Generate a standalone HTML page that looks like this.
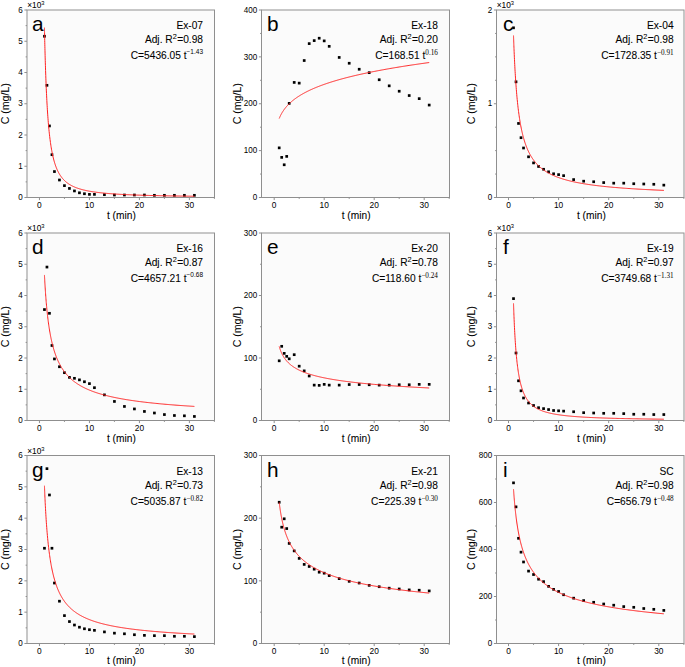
<!DOCTYPE html><html><head><meta charset="utf-8"><style>html,body{margin:0;padding:0;background:#fff;}svg{display:block;}text{font-family:"Liberation Sans",sans-serif;stroke:#000;stroke-width:0.07px;paint-order:stroke;}.sf{font-family:"Liberation Serif",serif;}</style></head><body>
<svg width="685" height="667" viewBox="0 0 685 667">
<rect width="685" height="667" fill="#fff"/>
<g><rect x="27.50" y="10.50" width="186.50" height="186.50" fill="#fbfbfb"/><clipPath id="cl0"><rect x="27.0" y="10.0" width="187.5" height="187.5"/></clipPath><rect x="43.10" y="34.90" width="2.7" height="2.7" fill="#000"/><rect x="45.60" y="83.96" width="2.7" height="2.7" fill="#000"/><rect x="48.10" y="124.59" width="2.7" height="2.7" fill="#000"/><rect x="50.60" y="153.34" width="2.7" height="2.7" fill="#000"/><rect x="53.09" y="170.21" width="2.7" height="2.7" fill="#000"/><rect x="58.09" y="178.65" width="2.7" height="2.7" fill="#000"/><rect x="63.09" y="184.28" width="2.7" height="2.7" fill="#000"/><rect x="68.09" y="187.09" width="2.7" height="2.7" fill="#000"/><rect x="73.09" y="189.59" width="2.7" height="2.7" fill="#000"/><rect x="78.08" y="191.46" width="2.7" height="2.7" fill="#000"/><rect x="83.08" y="192.40" width="2.7" height="2.7" fill="#000"/><rect x="88.08" y="193.03" width="2.7" height="2.7" fill="#000"/><rect x="93.08" y="193.03" width="2.7" height="2.7" fill="#000"/><rect x="103.07" y="193.34" width="2.7" height="2.7" fill="#000"/><rect x="113.07" y="193.65" width="2.7" height="2.7" fill="#000"/><rect x="123.07" y="193.65" width="2.7" height="2.7" fill="#000"/><rect x="133.06" y="193.65" width="2.7" height="2.7" fill="#000"/><rect x="143.06" y="193.65" width="2.7" height="2.7" fill="#000"/><rect x="153.05" y="193.96" width="2.7" height="2.7" fill="#000"/><rect x="163.05" y="193.96" width="2.7" height="2.7" fill="#000"/><rect x="173.05" y="193.96" width="2.7" height="2.7" fill="#000"/><rect x="183.04" y="193.96" width="2.7" height="2.7" fill="#000"/><rect x="193.04" y="193.96" width="2.7" height="2.7" fill="#000"/><polyline clip-path="url(#cl0)" points="44.45,27.62 44.45,27.70 44.45,27.95 44.46,28.35 44.47,28.91 44.49,29.63 44.51,30.50 44.53,31.51 44.55,32.67 44.58,33.97 44.61,35.40 44.65,36.96 44.69,38.64 44.73,40.43 44.77,42.32 44.82,44.31 44.87,46.40 44.93,48.56 44.99,50.80 45.05,53.10 45.11,55.46 45.18,57.88 45.25,60.33 45.33,62.83 45.41,65.35 45.49,67.90 45.57,70.46 45.66,73.04 45.75,75.62 45.85,78.19 45.95,80.77 46.05,83.33 46.15,85.88 46.26,88.41 46.37,90.91 46.49,93.39 46.61,95.84 46.73,98.26 46.85,100.65 46.98,103.00 47.11,105.31 47.25,107.58 47.39,109.82 47.53,112.01 47.67,114.15 47.82,116.26 47.97,118.31 48.13,120.33 48.29,122.30 48.45,124.22 48.61,126.10 48.78,127.93 48.95,129.72 49.13,131.47 49.31,133.17 49.49,134.83 49.67,136.44 49.86,138.01 50.05,139.55 50.25,141.04 50.45,142.49 50.65,143.90 50.85,145.27 51.06,146.60 51.27,147.90 51.49,149.16 51.71,150.39 51.93,151.58 52.15,152.74 52.38,153.87 52.61,154.96 52.85,156.02 53.08,157.05 53.33,158.06 53.57,159.03 53.82,159.98 54.07,160.90 54.33,161.79 54.58,162.66 54.85,163.50 55.11,164.32 55.38,165.12 55.65,165.89 55.93,166.64 56.20,167.37 56.48,168.08 56.77,168.77 57.06,169.44 57.35,170.09 57.64,170.73 57.94,171.34 58.24,171.94 58.55,172.52 58.86,173.09 59.17,173.64 59.48,174.17 59.80,174.69 60.12,175.20 60.45,175.69 60.78,176.17 61.11,176.63 61.44,177.09 61.78,177.53 62.12,177.95 62.47,178.37 62.82,178.78 63.17,179.17 63.52,179.56 63.88,179.93 64.24,180.30 64.61,180.65 64.97,181.00 65.35,181.34 65.72,181.67 66.10,181.99 66.48,182.30 66.87,182.60 67.25,182.90 67.65,183.19 68.04,183.47 68.44,183.75 68.84,184.01 69.24,184.28 69.65,184.53 70.06,184.78 70.48,185.02 70.90,185.26 71.32,185.49 71.74,185.71 72.17,185.93 72.60,186.15 73.04,186.36 73.48,186.56 73.92,186.76 74.36,186.96 74.81,187.15 75.26,187.33 75.72,187.52 76.18,187.69 76.64,187.87 77.10,188.04 77.57,188.20 78.04,188.36 78.52,188.52 78.99,188.68 79.48,188.83 79.96,188.98 80.45,189.12 80.94,189.26 81.43,189.40 81.93,189.54 82.43,189.67 82.94,189.80 83.45,189.93 83.96,190.05 84.47,190.17 84.99,190.29 85.51,190.41 86.04,190.52 86.57,190.63 87.10,190.74 87.63,190.85 88.17,190.95 88.71,191.06 89.26,191.16 89.80,191.26 90.36,191.35 90.91,191.45 91.47,191.54 92.03,191.63 92.60,191.72 93.16,191.81 93.73,191.89 94.31,191.98 94.89,192.06 95.47,192.14 96.05,192.22 96.64,192.29 97.23,192.37 97.83,192.45 98.43,192.52 99.03,192.59 99.63,192.66 100.24,192.73 100.85,192.80 101.47,192.86 102.08,192.93 102.71,192.99 103.33,193.06 103.96,193.12 104.59,193.18 105.23,193.24 105.86,193.30 106.50,193.35 107.15,193.41 107.80,193.47 108.45,193.52 109.10,193.57 109.76,193.63 110.42,193.68 111.09,193.73 111.76,193.78 112.43,193.83 113.10,193.87 113.78,193.92 114.46,193.97 115.15,194.01 115.83,194.06 116.53,194.10 117.22,194.15 117.92,194.19 118.62,194.23 119.32,194.27 120.03,194.31 120.74,194.35 121.46,194.39 122.18,194.43 122.90,194.47 123.62,194.50 124.35,194.54 125.08,194.58 125.82,194.61 126.56,194.65 127.30,194.68 128.04,194.72 128.79,194.75 129.54,194.78 130.30,194.81 131.05,194.85 131.81,194.88 132.58,194.91 133.35,194.94 134.12,194.97 134.89,195.00 135.67,195.03 136.45,195.05 137.24,195.08 138.03,195.11 138.82,195.14 139.61,195.16 140.41,195.19 141.21,195.22 142.02,195.24 142.82,195.27 143.63,195.29 144.45,195.32 145.27,195.34 146.09,195.36 146.91,195.39 147.74,195.41 148.57,195.43 149.41,195.46 150.25,195.48 151.09,195.50 151.93,195.52 152.78,195.54 153.63,195.56 154.49,195.58 155.34,195.60 156.20,195.62 157.07,195.64 157.94,195.66 158.81,195.68 159.68,195.70 160.56,195.72 161.44,195.74 162.33,195.76 163.22,195.77 164.11,195.79 165.00,195.81 165.90,195.83 166.80,195.84 167.71,195.86 168.61,195.88 169.52,195.89 170.44,195.91 171.36,195.92 172.28,195.94 173.20,195.96 174.13,195.97 175.06,195.99 176.00,196.00 176.93,196.02 177.88,196.03 178.82,196.04 179.77,196.06 180.72,196.07 181.67,196.09 182.63,196.10 183.59,196.11 184.56,196.13 185.53,196.14 186.50,196.15 187.47,196.16 188.45,196.18 189.43,196.19 190.42,196.20 191.40,196.21 192.40,196.22 193.39,196.24 194.39,196.25" fill="none" stroke="#ff2020" stroke-width="1"/><rect x="27.00" y="10.00" width="187.50" height="187.50" fill="none" stroke="#8f8f8f" stroke-width="1"/><line x1="39.45" y1="197.5" x2="39.45" y2="200.1" stroke="#8f8f8f" stroke-width="1"/><text transform="translate(39.45,208.00) scale(1.0,1)" font-size="8.4" text-anchor="middle" fill="#000" style="stroke:none">0</text><line x1="64.44" y1="197.5" x2="64.44" y2="198.9" stroke="#8f8f8f" stroke-width="1"/><line x1="89.43" y1="197.5" x2="89.43" y2="200.1" stroke="#8f8f8f" stroke-width="1"/><text transform="translate(89.43,208.00) scale(1.0,1)" font-size="8.4" text-anchor="middle" fill="#000" style="stroke:none">10</text><line x1="114.42" y1="197.5" x2="114.42" y2="198.9" stroke="#8f8f8f" stroke-width="1"/><line x1="139.41" y1="197.5" x2="139.41" y2="200.1" stroke="#8f8f8f" stroke-width="1"/><text transform="translate(139.41,208.00) scale(1.0,1)" font-size="8.4" text-anchor="middle" fill="#000" style="stroke:none">20</text><line x1="164.40" y1="197.5" x2="164.40" y2="198.9" stroke="#8f8f8f" stroke-width="1"/><line x1="189.39" y1="197.5" x2="189.39" y2="200.1" stroke="#8f8f8f" stroke-width="1"/><text transform="translate(189.39,208.00) scale(1.0,1)" font-size="8.4" text-anchor="middle" fill="#000" style="stroke:none">30</text><line x1="214.38" y1="197.5" x2="214.38" y2="198.9" stroke="#8f8f8f" stroke-width="1"/><line x1="27.0" y1="197.50" x2="24.4" y2="197.50" stroke="#8f8f8f" stroke-width="1"/><text transform="translate(22.70,200.20) scale(0.96,1.1)" font-size="8.4" text-anchor="end" fill="#000" style="stroke:none">0</text><line x1="27.0" y1="181.88" x2="25.6" y2="181.88" stroke="#8f8f8f" stroke-width="1"/><line x1="27.0" y1="166.25" x2="24.4" y2="166.25" stroke="#8f8f8f" stroke-width="1"/><text transform="translate(22.70,168.95) scale(0.96,1.1)" font-size="8.4" text-anchor="end" fill="#000" style="stroke:none">1</text><line x1="27.0" y1="150.62" x2="25.6" y2="150.62" stroke="#8f8f8f" stroke-width="1"/><line x1="27.0" y1="135.00" x2="24.4" y2="135.00" stroke="#8f8f8f" stroke-width="1"/><text transform="translate(22.70,137.70) scale(0.96,1.1)" font-size="8.4" text-anchor="end" fill="#000" style="stroke:none">2</text><line x1="27.0" y1="119.38" x2="25.6" y2="119.38" stroke="#8f8f8f" stroke-width="1"/><line x1="27.0" y1="103.75" x2="24.4" y2="103.75" stroke="#8f8f8f" stroke-width="1"/><text transform="translate(22.70,106.45) scale(0.96,1.1)" font-size="8.4" text-anchor="end" fill="#000" style="stroke:none">3</text><line x1="27.0" y1="88.12" x2="25.6" y2="88.12" stroke="#8f8f8f" stroke-width="1"/><line x1="27.0" y1="72.50" x2="24.4" y2="72.50" stroke="#8f8f8f" stroke-width="1"/><text transform="translate(22.70,75.20) scale(0.96,1.1)" font-size="8.4" text-anchor="end" fill="#000" style="stroke:none">4</text><line x1="27.0" y1="56.88" x2="25.6" y2="56.88" stroke="#8f8f8f" stroke-width="1"/><line x1="27.0" y1="41.25" x2="24.4" y2="41.25" stroke="#8f8f8f" stroke-width="1"/><text transform="translate(22.70,43.95) scale(0.96,1.1)" font-size="8.4" text-anchor="end" fill="#000" style="stroke:none">5</text><line x1="27.0" y1="25.62" x2="25.6" y2="25.62" stroke="#8f8f8f" stroke-width="1"/><line x1="27.0" y1="10.00" x2="24.4" y2="10.00" stroke="#8f8f8f" stroke-width="1"/><text transform="translate(22.70,12.70) scale(0.96,1.1)" font-size="8.4" text-anchor="end" fill="#000" style="stroke:none">6</text><text x="27.20" y="8.00" font-size="8.3" fill="#000">×10<tspan font-size="5.8" dy="-3.0" style="stroke:none">3</tspan></text><text x="121.35" y="218.80" font-size="10.2" text-anchor="middle" fill="#000">t (min)</text><text transform="translate(9.40,103.75) rotate(-90)" font-size="10.6" text-anchor="middle" fill="#000">C (mg/L)</text><text x="32.00" y="31.40" font-size="20.8" fill="#000" style="stroke:none">a</text><text x="203.00" y="28.80" font-size="10.2" text-anchor="end" fill="#000">Ex-07</text><text x="203.00" y="42.90" font-size="10.2" text-anchor="end" fill="#000">Adj. R<tspan font-size="7.3" dy="-3.8">2</tspan><tspan dy="3.8" dx="0.5">=0.98</tspan></text><text x="203.00" y="58.60" font-size="10.2" text-anchor="end" fill="#000">C=5436.05 t<tspan style="stroke:none" font-size="6.5" dy="-4.2">−1.43</tspan></text></g>
<g><rect x="262.00" y="10.50" width="187.00" height="186.50" fill="#fbfbfb"/><clipPath id="cl1"><rect x="261.5" y="10.0" width="188.0" height="187.5"/></clipPath><rect x="277.85" y="146.51" width="2.7" height="2.7" fill="#000"/><rect x="280.35" y="156.03" width="2.7" height="2.7" fill="#000"/><rect x="282.85" y="163.43" width="2.7" height="2.7" fill="#000"/><rect x="285.35" y="155.04" width="2.7" height="2.7" fill="#000"/><rect x="287.85" y="102.03" width="2.7" height="2.7" fill="#000"/><rect x="292.85" y="81.07" width="2.7" height="2.7" fill="#000"/><rect x="297.85" y="81.78" width="2.7" height="2.7" fill="#000"/><rect x="302.85" y="59.18" width="2.7" height="2.7" fill="#000"/><rect x="307.85" y="42.26" width="2.7" height="2.7" fill="#000"/><rect x="312.85" y="39.26" width="2.7" height="2.7" fill="#000"/><rect x="317.85" y="36.87" width="2.7" height="2.7" fill="#000"/><rect x="322.85" y="39.54" width="2.7" height="2.7" fill="#000"/><rect x="327.85" y="44.98" width="2.7" height="2.7" fill="#000"/><rect x="337.85" y="56.09" width="2.7" height="2.7" fill="#000"/><rect x="347.85" y="61.90" width="2.7" height="2.7" fill="#000"/><rect x="357.85" y="67.90" width="2.7" height="2.7" fill="#000"/><rect x="367.85" y="71.32" width="2.7" height="2.7" fill="#000"/><rect x="377.85" y="78.40" width="2.7" height="2.7" fill="#000"/><rect x="387.85" y="84.49" width="2.7" height="2.7" fill="#000"/><rect x="397.85" y="89.88" width="2.7" height="2.7" fill="#000"/><rect x="407.85" y="94.20" width="2.7" height="2.7" fill="#000"/><rect x="417.85" y="97.29" width="2.7" height="2.7" fill="#000"/><rect x="427.85" y="103.71" width="2.7" height="2.7" fill="#000"/><polyline clip-path="url(#cl1)" points="279.20,118.51 279.20,118.51 279.21,118.49 279.21,118.47 279.23,118.45 279.24,118.41 279.26,118.36 279.28,118.31 279.31,118.25 279.33,118.18 279.37,118.11 279.40,118.02 279.44,117.93 279.48,117.83 279.53,117.73 279.57,117.61 279.63,117.50 279.68,117.37 279.74,117.24 279.80,117.10 279.87,116.95 279.94,116.80 280.01,116.65 280.08,116.48 280.16,116.32 280.24,116.14 280.33,115.97 280.41,115.78 280.51,115.60 280.60,115.41 280.70,115.21 280.80,115.01 280.91,114.81 281.01,114.60 281.13,114.39 281.24,114.18 281.36,113.96 281.48,113.74 281.61,113.52 281.74,113.29 281.87,113.06 282.00,112.83 282.14,112.60 282.28,112.37 282.43,112.13 282.57,111.89 282.73,111.65 282.88,111.41 283.04,111.17 283.20,110.92 283.37,110.68 283.53,110.43 283.71,110.18 283.88,109.93 284.06,109.68 284.24,109.43 284.43,109.18 284.62,108.93 284.81,108.68 285.00,108.43 285.20,108.17 285.40,107.92 285.61,107.67 285.81,107.41 286.03,107.16 286.24,106.90 286.46,106.65 286.68,106.39 286.91,106.14 287.13,105.89 287.37,105.63 287.60,105.38 287.84,105.12 288.08,104.87 288.33,104.62 288.57,104.36 288.83,104.11 289.08,103.86 289.34,103.61 289.60,103.36 289.87,103.11 290.13,102.86 290.41,102.61 290.68,102.36 290.96,102.11 291.24,101.86 291.53,101.61 291.81,101.36 292.11,101.12 292.40,100.87 292.70,100.63 293.00,100.38 293.31,100.14 293.62,99.89 293.93,99.65 294.24,99.41 294.56,99.17 294.88,98.93 295.21,98.69 295.53,98.45 295.87,98.21 296.20,97.97 296.54,97.73 296.88,97.50 297.23,97.26 297.57,97.03 297.93,96.79 298.28,96.56 298.64,96.33 299.00,96.09 299.37,95.86 299.74,95.63 300.11,95.40 300.48,95.17 300.86,94.94 301.24,94.72 301.63,94.49 302.01,94.26 302.41,94.04 302.80,93.81 303.20,93.59 303.60,93.37 304.01,93.14 304.41,92.92 304.83,92.70 305.24,92.48 305.66,92.26 306.08,92.04 306.51,91.82 306.94,91.61 307.37,91.39 307.80,91.17 308.24,90.96 308.68,90.74 309.13,90.53 309.57,90.32 310.03,90.11 310.48,89.89 310.94,89.68 311.40,89.47 311.87,89.26 312.33,89.05 312.81,88.85 313.28,88.64 313.76,88.43 314.24,88.23 314.73,88.02 315.21,87.82 315.71,87.61 316.20,87.41 316.70,87.20 317.20,87.00 317.71,86.80 318.21,86.60 318.73,86.40 319.24,86.20 319.76,86.00 320.28,85.80 320.81,85.61 321.33,85.41 321.87,85.21 322.40,85.02 322.94,84.82 323.48,84.63 324.03,84.43 324.57,84.24 325.13,84.05 325.68,83.86 326.24,83.66 326.80,83.47 327.37,83.28 327.94,83.09 328.51,82.91 329.08,82.72 329.66,82.53 330.24,82.34 330.83,82.15 331.41,81.97 332.01,81.78 332.60,81.60 333.20,81.41 333.80,81.23 334.41,81.05 335.01,80.86 335.63,80.68 336.24,80.50 336.86,80.32 337.48,80.14 338.11,79.96 338.74,79.78 339.37,79.60 340.00,79.42 340.64,79.24 341.28,79.07 341.93,78.89 342.57,78.71 343.23,78.54 343.88,78.36 344.54,78.19 345.20,78.01 345.87,77.84 346.53,77.66 347.21,77.49 347.88,77.32 348.56,77.15 349.24,76.98 349.93,76.80 350.62,76.63 351.31,76.46 352.00,76.29 352.70,76.13 353.40,75.96 354.11,75.79 354.81,75.62 355.53,75.45 356.24,75.29 356.96,75.12 357.68,74.95 358.41,74.79 359.13,74.62 359.87,74.46 360.60,74.30 361.34,74.13 362.08,73.97 362.83,73.81 363.57,73.64 364.33,73.48 365.08,73.32 365.84,73.16 366.60,73.00 367.37,72.84 368.13,72.68 368.91,72.52 369.68,72.36 370.46,72.20 371.24,72.04 372.03,71.89 372.81,71.73 373.61,71.57 374.40,71.41 375.20,71.26 376.00,71.10 376.81,70.95 377.62,70.79 378.43,70.64 379.24,70.48 380.06,70.33 380.88,70.18 381.71,70.02 382.53,69.87 383.37,69.72 384.20,69.57 385.04,69.41 385.88,69.26 386.73,69.11 387.57,68.96 388.43,68.81 389.28,68.66 390.14,68.51 391.00,68.36 391.87,68.21 392.74,68.07 393.61,67.92 394.48,67.77 395.36,67.62 396.24,67.48 397.13,67.33 398.01,67.18 398.91,67.04 399.80,66.89 400.70,66.75 401.60,66.60 402.51,66.46 403.42,66.31 404.33,66.17 405.24,66.02 406.16,65.88 407.08,65.74 408.01,65.60 408.94,65.45 409.87,65.31 410.80,65.17 411.74,65.03 412.68,64.89 413.63,64.75 414.57,64.61 415.53,64.47 416.48,64.33 417.44,64.19 418.40,64.05 419.37,63.91 420.33,63.77 421.31,63.63 422.28,63.49 423.26,63.36 424.24,63.22 425.23,63.08 426.21,62.94 427.21,62.81 428.20,62.67 429.20,62.54" fill="none" stroke="#ff2020" stroke-width="1"/><rect x="261.50" y="10.00" width="188.00" height="187.50" fill="none" stroke="#8f8f8f" stroke-width="1"/><line x1="274.20" y1="197.5" x2="274.20" y2="200.1" stroke="#8f8f8f" stroke-width="1"/><text transform="translate(274.20,208.00) scale(1.0,1)" font-size="8.4" text-anchor="middle" fill="#000" style="stroke:none">0</text><line x1="299.20" y1="197.5" x2="299.20" y2="198.9" stroke="#8f8f8f" stroke-width="1"/><line x1="324.20" y1="197.5" x2="324.20" y2="200.1" stroke="#8f8f8f" stroke-width="1"/><text transform="translate(324.20,208.00) scale(1.0,1)" font-size="8.4" text-anchor="middle" fill="#000" style="stroke:none">10</text><line x1="349.20" y1="197.5" x2="349.20" y2="198.9" stroke="#8f8f8f" stroke-width="1"/><line x1="374.20" y1="197.5" x2="374.20" y2="200.1" stroke="#8f8f8f" stroke-width="1"/><text transform="translate(374.20,208.00) scale(1.0,1)" font-size="8.4" text-anchor="middle" fill="#000" style="stroke:none">20</text><line x1="399.20" y1="197.5" x2="399.20" y2="198.9" stroke="#8f8f8f" stroke-width="1"/><line x1="424.20" y1="197.5" x2="424.20" y2="200.1" stroke="#8f8f8f" stroke-width="1"/><text transform="translate(424.20,208.00) scale(1.0,1)" font-size="8.4" text-anchor="middle" fill="#000" style="stroke:none">30</text><line x1="449.20" y1="197.5" x2="449.20" y2="198.9" stroke="#8f8f8f" stroke-width="1"/><line x1="261.5" y1="197.50" x2="258.9" y2="197.50" stroke="#8f8f8f" stroke-width="1"/><text transform="translate(257.20,200.20) scale(0.96,1.1)" font-size="8.4" text-anchor="end" fill="#000" style="stroke:none">0</text><line x1="261.5" y1="174.06" x2="260.1" y2="174.06" stroke="#8f8f8f" stroke-width="1"/><line x1="261.5" y1="150.62" x2="258.9" y2="150.62" stroke="#8f8f8f" stroke-width="1"/><text transform="translate(257.20,153.32) scale(0.96,1.1)" font-size="8.4" text-anchor="end" fill="#000" style="stroke:none">100</text><line x1="261.5" y1="127.19" x2="260.1" y2="127.19" stroke="#8f8f8f" stroke-width="1"/><line x1="261.5" y1="103.75" x2="258.9" y2="103.75" stroke="#8f8f8f" stroke-width="1"/><text transform="translate(257.20,106.45) scale(0.96,1.1)" font-size="8.4" text-anchor="end" fill="#000" style="stroke:none">200</text><line x1="261.5" y1="80.31" x2="260.1" y2="80.31" stroke="#8f8f8f" stroke-width="1"/><line x1="261.5" y1="56.88" x2="258.9" y2="56.88" stroke="#8f8f8f" stroke-width="1"/><text transform="translate(257.20,59.58) scale(0.96,1.1)" font-size="8.4" text-anchor="end" fill="#000" style="stroke:none">300</text><line x1="261.5" y1="33.44" x2="260.1" y2="33.44" stroke="#8f8f8f" stroke-width="1"/><line x1="261.5" y1="10.00" x2="258.9" y2="10.00" stroke="#8f8f8f" stroke-width="1"/><text transform="translate(257.20,12.70) scale(0.96,1.1)" font-size="8.4" text-anchor="end" fill="#000" style="stroke:none">400</text><text x="356.10" y="218.80" font-size="10.2" text-anchor="middle" fill="#000">t (min)</text><text transform="translate(241.30,103.75) rotate(-90)" font-size="10.6" text-anchor="middle" fill="#000">C (mg/L)</text><text x="267.00" y="31.40" font-size="20.8" fill="#000" style="stroke:none">b</text><text x="437.90" y="28.80" font-size="10.2" text-anchor="end" fill="#000">Ex-18</text><text x="437.90" y="42.90" font-size="10.2" text-anchor="end" fill="#000">Adj. R<tspan font-size="7.3" dy="-3.8">2</tspan><tspan dy="3.8" dx="0.5">=0.20</tspan></text><text x="437.90" y="58.60" font-size="10.2" text-anchor="end" fill="#000">C=168.51 t<tspan class="sf" style="stroke:none" font-size="7.2" dy="-3.9">0.16</tspan></text></g>
<g><rect x="497.00" y="10.50" width="186.50" height="186.50" fill="#fbfbfb"/><clipPath id="cl2"><rect x="496.5" y="10.0" width="187.5" height="187.5"/></clipPath><rect x="512.16" y="26.46" width="2.7" height="2.7" fill="#000"/><rect x="514.66" y="80.46" width="2.7" height="2.7" fill="#000"/><rect x="517.17" y="122.09" width="2.7" height="2.7" fill="#000"/><rect x="519.67" y="136.34" width="2.7" height="2.7" fill="#000"/><rect x="522.18" y="146.65" width="2.7" height="2.7" fill="#000"/><rect x="527.19" y="155.46" width="2.7" height="2.7" fill="#000"/><rect x="532.20" y="161.56" width="2.7" height="2.7" fill="#000"/><rect x="537.21" y="165.12" width="2.7" height="2.7" fill="#000"/><rect x="542.22" y="167.93" width="2.7" height="2.7" fill="#000"/><rect x="547.23" y="170.46" width="2.7" height="2.7" fill="#000"/><rect x="552.24" y="172.43" width="2.7" height="2.7" fill="#000"/><rect x="557.25" y="173.28" width="2.7" height="2.7" fill="#000"/><rect x="562.26" y="174.31" width="2.7" height="2.7" fill="#000"/><rect x="572.28" y="178.24" width="2.7" height="2.7" fill="#000"/><rect x="582.30" y="179.84" width="2.7" height="2.7" fill="#000"/><rect x="592.32" y="180.40" width="2.7" height="2.7" fill="#000"/><rect x="602.34" y="181.24" width="2.7" height="2.7" fill="#000"/><rect x="612.36" y="181.81" width="2.7" height="2.7" fill="#000"/><rect x="622.38" y="181.81" width="2.7" height="2.7" fill="#000"/><rect x="632.40" y="182.37" width="2.7" height="2.7" fill="#000"/><rect x="642.42" y="182.65" width="2.7" height="2.7" fill="#000"/><rect x="652.44" y="182.93" width="2.7" height="2.7" fill="#000"/><rect x="662.46" y="183.78" width="2.7" height="2.7" fill="#000"/><polyline clip-path="url(#cl2)" points="513.51,35.47 513.51,35.52 513.52,35.66 513.53,35.91 513.54,36.25 513.55,36.69 513.57,37.22 513.59,37.84 513.62,38.55 513.65,39.35 513.68,40.23 513.71,41.19 513.75,42.23 513.79,43.35 513.84,44.54 513.89,45.79 513.94,47.10 513.99,48.48 514.05,49.90 514.11,51.38 514.18,52.91 514.25,54.48 514.32,56.09 514.39,57.73 514.47,59.40 514.55,61.10 514.64,62.82 514.73,64.57 514.82,66.33 514.91,68.10 515.01,69.88 515.11,71.67 515.22,73.46 515.33,75.26 515.44,77.06 515.56,78.85 515.67,80.63 515.80,82.41 515.92,84.18 516.05,85.94 516.18,87.68 516.32,89.41 516.46,91.13 516.60,92.83 516.74,94.51 516.89,96.17 517.04,97.81 517.20,99.43 517.36,101.03 517.52,102.61 517.68,104.16 517.85,105.70 518.03,107.21 518.20,108.69 518.38,110.16 518.56,111.59 518.75,113.01 518.94,114.40 519.13,115.77 519.32,117.11 519.52,118.43 519.72,119.73 519.93,121.00 520.14,122.25 520.35,123.48 520.57,124.68 520.78,125.86 521.01,127.02 521.23,128.16 521.46,129.27 521.69,130.37 521.93,131.44 522.17,132.49 522.41,133.52 522.65,134.53 522.90,135.52 523.16,136.49 523.41,137.44 523.67,138.38 523.93,139.29 524.20,140.19 524.47,141.07 524.74,141.93 525.01,142.77 525.29,143.60 525.58,144.41 525.86,145.21 526.15,145.99 526.44,146.75 526.74,147.50 527.04,148.23 527.34,148.95 527.64,149.66 527.95,150.35 528.27,151.03 528.58,151.70 528.90,152.35 529.22,152.99 529.55,153.61 529.88,154.23 530.21,154.83 530.55,155.42 530.88,156.00 531.23,156.57 531.57,157.13 531.92,157.68 532.27,158.22 532.63,158.74 532.99,159.26 533.35,159.77 533.72,160.27 534.09,160.76 534.46,161.24 534.83,161.71 535.21,162.17 535.60,162.62 535.98,163.07 536.37,163.51 536.76,163.94 537.16,164.36 537.56,164.77 537.96,165.18 538.37,165.58 538.78,165.97 539.19,166.36 539.60,166.74 540.02,167.11 540.45,167.48 540.87,167.84 541.30,168.19 541.73,168.54 542.17,168.88 542.61,169.22 543.05,169.54 543.50,169.87 543.95,170.19 544.40,170.50 544.85,170.81 545.31,171.11 545.78,171.41 546.24,171.70 546.71,171.99 547.18,172.28 547.66,172.56 548.14,172.83 548.62,173.10 549.11,173.37 549.60,173.63 550.09,173.89 550.59,174.14 551.09,174.39 551.59,174.63 552.09,174.88 552.60,175.11 553.12,175.35 553.63,175.58 554.15,175.81 554.67,176.03 555.20,176.25 555.73,176.47 556.26,176.68 556.80,176.89 557.34,177.10 557.88,177.30 558.43,177.50 558.98,177.70 559.53,177.90 560.08,178.09 560.64,178.28 561.21,178.46 561.77,178.65 562.34,178.83 562.92,179.01 563.49,179.19 564.07,179.36 564.65,179.53 565.24,179.70 565.83,179.87 566.42,180.03 567.02,180.19 567.62,180.35 568.22,180.51 568.83,180.67 569.44,180.82 570.05,180.97 570.67,181.12 571.29,181.27 571.91,181.41 572.53,181.56 573.16,181.70 573.80,181.84 574.43,181.97 575.07,182.11 575.72,182.24 576.36,182.38 577.01,182.51 577.66,182.64 578.32,182.76 578.98,182.89 579.64,183.01 580.31,183.13 580.98,183.26 581.65,183.37 582.33,183.49 583.01,183.61 583.69,183.72 584.38,183.84 585.07,183.95 585.76,184.06 586.46,184.17 587.16,184.28 587.86,184.38 588.57,184.49 589.28,184.59 589.99,184.70 590.71,184.80 591.43,184.90 592.15,185.00 592.88,185.09 593.60,185.19 594.34,185.29 595.07,185.38 595.81,185.48 596.56,185.57 597.30,185.66 598.05,185.75 598.81,185.84 599.56,185.93 600.32,186.01 601.09,186.10 601.85,186.19 602.62,186.27 603.40,186.35 604.17,186.44 604.95,186.52 605.74,186.60 606.52,186.68 607.31,186.76 608.11,186.83 608.90,186.91 609.70,186.99 610.51,187.06 611.31,187.14 612.12,187.21 612.94,187.28 613.75,187.36 614.57,187.43 615.40,187.50 616.22,187.57 617.05,187.64 617.88,187.71 618.72,187.77 619.56,187.84 620.41,187.91 621.25,187.97 622.10,188.04 622.96,188.10 623.81,188.16 624.67,188.23 625.54,188.29 626.40,188.35 627.27,188.41 628.15,188.47 629.02,188.53 629.90,188.59 630.79,188.65 631.67,188.71 632.56,188.77 633.46,188.82 634.35,188.88 635.25,188.93 636.16,188.99 637.06,189.04 637.97,189.10 638.89,189.15 639.80,189.20 640.72,189.26 641.65,189.31 642.57,189.36 643.50,189.41 644.44,189.46 645.37,189.51 646.32,189.56 647.26,189.61 648.21,189.66 649.16,189.71 650.11,189.76 651.07,189.80 652.03,189.85 652.99,189.90 653.96,189.94 654.93,189.99 655.90,190.03 656.88,190.08 657.86,190.12 658.84,190.17 659.83,190.21 660.82,190.25 661.81,190.30 662.81,190.34 663.81,190.38" fill="none" stroke="#ff2020" stroke-width="1"/><rect x="496.50" y="10.00" width="187.50" height="187.50" fill="none" stroke="#8f8f8f" stroke-width="1"/><line x1="508.50" y1="197.5" x2="508.50" y2="200.1" stroke="#8f8f8f" stroke-width="1"/><text transform="translate(508.50,208.00) scale(1.0,1)" font-size="8.4" text-anchor="middle" fill="#000" style="stroke:none">0</text><line x1="533.55" y1="197.5" x2="533.55" y2="198.9" stroke="#8f8f8f" stroke-width="1"/><line x1="558.60" y1="197.5" x2="558.60" y2="200.1" stroke="#8f8f8f" stroke-width="1"/><text transform="translate(558.60,208.00) scale(1.0,1)" font-size="8.4" text-anchor="middle" fill="#000" style="stroke:none">10</text><line x1="583.65" y1="197.5" x2="583.65" y2="198.9" stroke="#8f8f8f" stroke-width="1"/><line x1="608.70" y1="197.5" x2="608.70" y2="200.1" stroke="#8f8f8f" stroke-width="1"/><text transform="translate(608.70,208.00) scale(1.0,1)" font-size="8.4" text-anchor="middle" fill="#000" style="stroke:none">20</text><line x1="633.75" y1="197.5" x2="633.75" y2="198.9" stroke="#8f8f8f" stroke-width="1"/><line x1="658.80" y1="197.5" x2="658.80" y2="200.1" stroke="#8f8f8f" stroke-width="1"/><text transform="translate(658.80,208.00) scale(1.0,1)" font-size="8.4" text-anchor="middle" fill="#000" style="stroke:none">30</text><line x1="683.85" y1="197.5" x2="683.85" y2="198.9" stroke="#8f8f8f" stroke-width="1"/><line x1="496.5" y1="197.50" x2="493.9" y2="197.50" stroke="#8f8f8f" stroke-width="1"/><text transform="translate(492.20,200.20) scale(0.96,1.1)" font-size="8.4" text-anchor="end" fill="#000" style="stroke:none">0</text><line x1="496.5" y1="174.06" x2="495.1" y2="174.06" stroke="#8f8f8f" stroke-width="1"/><line x1="496.5" y1="150.62" x2="495.1" y2="150.62" stroke="#8f8f8f" stroke-width="1"/><line x1="496.5" y1="127.19" x2="495.1" y2="127.19" stroke="#8f8f8f" stroke-width="1"/><line x1="496.5" y1="103.75" x2="493.9" y2="103.75" stroke="#8f8f8f" stroke-width="1"/><text transform="translate(492.20,106.45) scale(0.96,1.1)" font-size="8.4" text-anchor="end" fill="#000" style="stroke:none">1</text><line x1="496.5" y1="80.31" x2="495.1" y2="80.31" stroke="#8f8f8f" stroke-width="1"/><line x1="496.5" y1="56.88" x2="495.1" y2="56.88" stroke="#8f8f8f" stroke-width="1"/><line x1="496.5" y1="33.44" x2="495.1" y2="33.44" stroke="#8f8f8f" stroke-width="1"/><line x1="496.5" y1="10.00" x2="493.9" y2="10.00" stroke="#8f8f8f" stroke-width="1"/><text transform="translate(492.20,12.70) scale(0.96,1.1)" font-size="8.4" text-anchor="end" fill="#000" style="stroke:none">2</text><text x="496.70" y="8.00" font-size="8.3" fill="#000">×10<tspan font-size="5.8" dy="-3.0" style="stroke:none">3</tspan></text><text x="591.35" y="218.80" font-size="10.2" text-anchor="middle" fill="#000">t (min)</text><text transform="translate(475.20,103.75) rotate(-90)" font-size="10.6" text-anchor="middle" fill="#000">C (mg/L)</text><text x="502.90" y="31.40" font-size="20.8" fill="#000" style="stroke:none">c</text><text x="673.60" y="28.80" font-size="10.2" text-anchor="end" fill="#000">Ex-04</text><text x="673.60" y="42.90" font-size="10.2" text-anchor="end" fill="#000">Adj. R<tspan font-size="7.3" dy="-3.8">2</tspan><tspan dy="3.8" dx="0.5">=0.98</tspan></text><text x="673.60" y="58.60" font-size="10.2" text-anchor="end" fill="#000">C=1728.35 t<tspan class="sf" style="stroke:none" font-size="7.2" dy="-3.9">−0.91</tspan></text></g>
<g><rect x="27.50" y="233.50" width="186.50" height="186.50" fill="#fbfbfb"/><clipPath id="cl3"><rect x="27.0" y="233.0" width="187.5" height="187.5"/></clipPath><rect x="43.10" y="308.21" width="2.7" height="2.7" fill="#000"/><rect x="45.60" y="265.71" width="2.7" height="2.7" fill="#000"/><rect x="48.10" y="311.96" width="2.7" height="2.7" fill="#000"/><rect x="50.60" y="344.15" width="2.7" height="2.7" fill="#000"/><rect x="53.09" y="357.59" width="2.7" height="2.7" fill="#000"/><rect x="58.09" y="365.40" width="2.7" height="2.7" fill="#000"/><rect x="63.09" y="371.34" width="2.7" height="2.7" fill="#000"/><rect x="68.09" y="376.02" width="2.7" height="2.7" fill="#000"/><rect x="73.09" y="376.96" width="2.7" height="2.7" fill="#000"/><rect x="78.08" y="378.52" width="2.7" height="2.7" fill="#000"/><rect x="83.08" y="380.40" width="2.7" height="2.7" fill="#000"/><rect x="88.08" y="382.27" width="2.7" height="2.7" fill="#000"/><rect x="93.08" y="386.34" width="2.7" height="2.7" fill="#000"/><rect x="103.07" y="393.52" width="2.7" height="2.7" fill="#000"/><rect x="113.07" y="400.09" width="2.7" height="2.7" fill="#000"/><rect x="123.07" y="405.09" width="2.7" height="2.7" fill="#000"/><rect x="133.06" y="407.59" width="2.7" height="2.7" fill="#000"/><rect x="143.06" y="410.09" width="2.7" height="2.7" fill="#000"/><rect x="153.05" y="411.65" width="2.7" height="2.7" fill="#000"/><rect x="163.05" y="413.21" width="2.7" height="2.7" fill="#000"/><rect x="173.05" y="414.15" width="2.7" height="2.7" fill="#000"/><rect x="183.04" y="414.46" width="2.7" height="2.7" fill="#000"/><rect x="193.04" y="415.09" width="2.7" height="2.7" fill="#000"/><polyline clip-path="url(#cl3)" points="44.45,274.96 44.45,275.00 44.45,275.09 44.46,275.26 44.47,275.49 44.49,275.78 44.51,276.14 44.53,276.56 44.55,277.04 44.58,277.58 44.61,278.17 44.65,278.82 44.69,279.53 44.73,280.29 44.77,281.09 44.82,281.95 44.87,282.84 44.93,283.79 44.99,284.77 45.05,285.78 45.11,286.84 45.18,287.92 45.25,289.04 45.33,290.18 45.41,291.35 45.49,292.54 45.57,293.75 45.66,294.97 45.75,296.22 45.85,297.47 45.95,298.74 46.05,300.02 46.15,301.31 46.26,302.60 46.37,303.89 46.49,305.19 46.61,306.49 46.73,307.79 46.85,309.09 46.98,310.38 47.11,311.67 47.25,312.96 47.39,314.23 47.53,315.50 47.67,316.77 47.82,318.02 47.97,319.26 48.13,320.49 48.29,321.72 48.45,322.93 48.61,324.12 48.78,325.31 48.95,326.48 49.13,327.64 49.31,328.79 49.49,329.92 49.67,331.03 49.86,332.14 50.05,333.23 50.25,334.30 50.45,335.36 50.65,336.41 50.85,337.44 51.06,338.45 51.27,339.45 51.49,340.44 51.71,341.41 51.93,342.37 52.15,343.31 52.38,344.24 52.61,345.16 52.85,346.06 53.08,346.95 53.33,347.82 53.57,348.68 53.82,349.53 54.07,350.36 54.33,351.18 54.58,351.98 54.85,352.78 55.11,353.56 55.38,354.33 55.65,355.08 55.93,355.83 56.20,356.56 56.48,357.28 56.77,357.99 57.06,358.69 57.35,359.37 57.64,360.05 57.94,360.71 58.24,361.37 58.55,362.01 58.86,362.64 59.17,363.27 59.48,363.88 59.80,364.48 60.12,365.08 60.45,365.66 60.78,366.24 61.11,366.80 61.44,367.36 61.78,367.91 62.12,368.45 62.47,368.98 62.82,369.51 63.17,370.02 63.52,370.53 63.88,371.03 64.24,371.52 64.61,372.00 64.97,372.48 65.35,372.95 65.72,373.41 66.10,373.87 66.48,374.32 66.87,374.76 67.25,375.19 67.65,375.62 68.04,376.04 68.44,376.46 68.84,376.87 69.24,377.27 69.65,377.67 70.06,378.06 70.48,378.45 70.90,378.83 71.32,379.21 71.74,379.58 72.17,379.94 72.60,380.30 73.04,380.66 73.48,381.01 73.92,381.35 74.36,381.69 74.81,382.03 75.26,382.36 75.72,382.68 76.18,383.00 76.64,383.32 77.10,383.63 77.57,383.94 78.04,384.25 78.52,384.55 78.99,384.84 79.48,385.14 79.96,385.42 80.45,385.71 80.94,385.99 81.43,386.27 81.93,386.54 82.43,386.81 82.94,387.08 83.45,387.34 83.96,387.60 84.47,387.85 84.99,388.11 85.51,388.36 86.04,388.60 86.57,388.85 87.10,389.09 87.63,389.33 88.17,389.56 88.71,389.79 89.26,390.02 89.80,390.25 90.36,390.47 90.91,390.69 91.47,390.91 92.03,391.12 92.60,391.34 93.16,391.55 93.73,391.75 94.31,391.96 94.89,392.16 95.47,392.36 96.05,392.56 96.64,392.76 97.23,392.95 97.83,393.14 98.43,393.33 99.03,393.52 99.63,393.70 100.24,393.88 100.85,394.06 101.47,394.24 102.08,394.42 102.71,394.59 103.33,394.77 103.96,394.94 104.59,395.11 105.23,395.27 105.86,395.44 106.50,395.60 107.15,395.76 107.80,395.92 108.45,396.08 109.10,396.24 109.76,396.39 110.42,396.54 111.09,396.70 111.76,396.85 112.43,396.99 113.10,397.14 113.78,397.29 114.46,397.43 115.15,397.57 115.83,397.71 116.53,397.85 117.22,397.99 117.92,398.12 118.62,398.26 119.32,398.39 120.03,398.53 120.74,398.66 121.46,398.79 122.18,398.91 122.90,399.04 123.62,399.17 124.35,399.29 125.08,399.42 125.82,399.54 126.56,399.66 127.30,399.78 128.04,399.90 128.79,400.01 129.54,400.13 130.30,400.25 131.05,400.36 131.81,400.47 132.58,400.59 133.35,400.70 134.12,400.81 134.89,400.91 135.67,401.02 136.45,401.13 137.24,401.24 138.03,401.34 138.82,401.44 139.61,401.55 140.41,401.65 141.21,401.75 142.02,401.85 142.82,401.95 143.63,402.05 144.45,402.15 145.27,402.24 146.09,402.34 146.91,402.43 147.74,402.53 148.57,402.62 149.41,402.71 150.25,402.80 151.09,402.89 151.93,402.98 152.78,403.07 153.63,403.16 154.49,403.25 155.34,403.34 156.20,403.42 157.07,403.51 157.94,403.59 158.81,403.68 159.68,403.76 160.56,403.84 161.44,403.93 162.33,404.01 163.22,404.09 164.11,404.17 165.00,404.25 165.90,404.32 166.80,404.40 167.71,404.48 168.61,404.56 169.52,404.63 170.44,404.71 171.36,404.78 172.28,404.86 173.20,404.93 174.13,405.00 175.06,405.08 176.00,405.15 176.93,405.22 177.88,405.29 178.82,405.36 179.77,405.43 180.72,405.50 181.67,405.57 182.63,405.64 183.59,405.70 184.56,405.77 185.53,405.84 186.50,405.90 187.47,405.97 188.45,406.03 189.43,406.10 190.42,406.16 191.40,406.22 192.40,406.29 193.39,406.35 194.39,406.41" fill="none" stroke="#ff2020" stroke-width="1"/><rect x="27.00" y="233.00" width="187.50" height="187.50" fill="none" stroke="#8f8f8f" stroke-width="1"/><line x1="39.45" y1="420.5" x2="39.45" y2="423.1" stroke="#8f8f8f" stroke-width="1"/><text transform="translate(39.45,431.00) scale(1.0,1)" font-size="8.4" text-anchor="middle" fill="#000" style="stroke:none">0</text><line x1="64.44" y1="420.5" x2="64.44" y2="421.9" stroke="#8f8f8f" stroke-width="1"/><line x1="89.43" y1="420.5" x2="89.43" y2="423.1" stroke="#8f8f8f" stroke-width="1"/><text transform="translate(89.43,431.00) scale(1.0,1)" font-size="8.4" text-anchor="middle" fill="#000" style="stroke:none">10</text><line x1="114.42" y1="420.5" x2="114.42" y2="421.9" stroke="#8f8f8f" stroke-width="1"/><line x1="139.41" y1="420.5" x2="139.41" y2="423.1" stroke="#8f8f8f" stroke-width="1"/><text transform="translate(139.41,431.00) scale(1.0,1)" font-size="8.4" text-anchor="middle" fill="#000" style="stroke:none">20</text><line x1="164.40" y1="420.5" x2="164.40" y2="421.9" stroke="#8f8f8f" stroke-width="1"/><line x1="189.39" y1="420.5" x2="189.39" y2="423.1" stroke="#8f8f8f" stroke-width="1"/><text transform="translate(189.39,431.00) scale(1.0,1)" font-size="8.4" text-anchor="middle" fill="#000" style="stroke:none">30</text><line x1="214.38" y1="420.5" x2="214.38" y2="421.9" stroke="#8f8f8f" stroke-width="1"/><line x1="27.0" y1="420.50" x2="24.4" y2="420.50" stroke="#8f8f8f" stroke-width="1"/><text transform="translate(22.70,423.20) scale(0.96,1.1)" font-size="8.4" text-anchor="end" fill="#000" style="stroke:none">0</text><line x1="27.0" y1="404.88" x2="25.6" y2="404.88" stroke="#8f8f8f" stroke-width="1"/><line x1="27.0" y1="389.25" x2="24.4" y2="389.25" stroke="#8f8f8f" stroke-width="1"/><text transform="translate(22.70,391.95) scale(0.96,1.1)" font-size="8.4" text-anchor="end" fill="#000" style="stroke:none">1</text><line x1="27.0" y1="373.62" x2="25.6" y2="373.62" stroke="#8f8f8f" stroke-width="1"/><line x1="27.0" y1="358.00" x2="24.4" y2="358.00" stroke="#8f8f8f" stroke-width="1"/><text transform="translate(22.70,360.70) scale(0.96,1.1)" font-size="8.4" text-anchor="end" fill="#000" style="stroke:none">2</text><line x1="27.0" y1="342.38" x2="25.6" y2="342.38" stroke="#8f8f8f" stroke-width="1"/><line x1="27.0" y1="326.75" x2="24.4" y2="326.75" stroke="#8f8f8f" stroke-width="1"/><text transform="translate(22.70,329.45) scale(0.96,1.1)" font-size="8.4" text-anchor="end" fill="#000" style="stroke:none">3</text><line x1="27.0" y1="311.12" x2="25.6" y2="311.12" stroke="#8f8f8f" stroke-width="1"/><line x1="27.0" y1="295.50" x2="24.4" y2="295.50" stroke="#8f8f8f" stroke-width="1"/><text transform="translate(22.70,298.20) scale(0.96,1.1)" font-size="8.4" text-anchor="end" fill="#000" style="stroke:none">4</text><line x1="27.0" y1="279.88" x2="25.6" y2="279.88" stroke="#8f8f8f" stroke-width="1"/><line x1="27.0" y1="264.25" x2="24.4" y2="264.25" stroke="#8f8f8f" stroke-width="1"/><text transform="translate(22.70,266.95) scale(0.96,1.1)" font-size="8.4" text-anchor="end" fill="#000" style="stroke:none">5</text><line x1="27.0" y1="248.62" x2="25.6" y2="248.62" stroke="#8f8f8f" stroke-width="1"/><line x1="27.0" y1="233.00" x2="24.4" y2="233.00" stroke="#8f8f8f" stroke-width="1"/><text transform="translate(22.70,235.70) scale(0.96,1.1)" font-size="8.4" text-anchor="end" fill="#000" style="stroke:none">6</text><text x="27.20" y="231.00" font-size="8.3" fill="#000">×10<tspan font-size="5.8" dy="-3.0" style="stroke:none">3</tspan></text><text x="121.35" y="442.40" font-size="10.2" text-anchor="middle" fill="#000">t (min)</text><text transform="translate(9.40,326.75) rotate(-90)" font-size="10.6" text-anchor="middle" fill="#000">C (mg/L)</text><text x="32.00" y="254.40" font-size="20.8" fill="#000" style="stroke:none">d</text><text x="203.00" y="251.80" font-size="10.2" text-anchor="end" fill="#000">Ex-16</text><text x="203.00" y="265.90" font-size="10.2" text-anchor="end" fill="#000">Adj. R<tspan font-size="7.3" dy="-3.8">2</tspan><tspan dy="3.8" dx="0.5">=0.87</tspan></text><text x="203.00" y="281.60" font-size="10.2" text-anchor="end" fill="#000">C=4657.21 t<tspan style="stroke:none" font-size="6.5" dy="-4.2">−0.68</tspan></text></g>
<g><rect x="262.00" y="233.50" width="187.00" height="186.50" fill="#fbfbfb"/><clipPath id="cl4"><rect x="261.5" y="233.0" width="188.0" height="187.5"/></clipPath><rect x="277.85" y="359.46" width="2.7" height="2.7" fill="#000"/><rect x="280.35" y="344.96" width="2.7" height="2.7" fill="#000"/><rect x="282.85" y="352.02" width="2.7" height="2.7" fill="#000"/><rect x="285.35" y="355.02" width="2.7" height="2.7" fill="#000"/><rect x="287.85" y="357.46" width="2.7" height="2.7" fill="#000"/><rect x="292.85" y="353.34" width="2.7" height="2.7" fill="#000"/><rect x="297.85" y="364.84" width="2.7" height="2.7" fill="#000"/><rect x="302.85" y="369.52" width="2.7" height="2.7" fill="#000"/><rect x="307.85" y="374.65" width="2.7" height="2.7" fill="#000"/><rect x="312.85" y="383.77" width="2.7" height="2.7" fill="#000"/><rect x="317.85" y="384.02" width="2.7" height="2.7" fill="#000"/><rect x="322.85" y="383.02" width="2.7" height="2.7" fill="#000"/><rect x="327.85" y="383.77" width="2.7" height="2.7" fill="#000"/><rect x="337.85" y="383.77" width="2.7" height="2.7" fill="#000"/><rect x="347.85" y="383.21" width="2.7" height="2.7" fill="#000"/><rect x="357.85" y="383.21" width="2.7" height="2.7" fill="#000"/><rect x="367.85" y="383.40" width="2.7" height="2.7" fill="#000"/><rect x="377.85" y="383.77" width="2.7" height="2.7" fill="#000"/><rect x="387.85" y="383.77" width="2.7" height="2.7" fill="#000"/><rect x="397.85" y="383.40" width="2.7" height="2.7" fill="#000"/><rect x="407.85" y="383.40" width="2.7" height="2.7" fill="#000"/><rect x="417.85" y="383.02" width="2.7" height="2.7" fill="#000"/><rect x="427.85" y="383.02" width="2.7" height="2.7" fill="#000"/><polyline clip-path="url(#cl4)" points="279.20,346.38 279.20,346.38 279.21,346.40 279.21,346.43 279.23,346.47 279.24,346.52 279.26,346.59 279.28,346.66 279.31,346.75 279.33,346.85 279.37,346.96 279.40,347.08 279.44,347.20 279.48,347.34 279.53,347.49 279.57,347.65 279.63,347.82 279.68,347.99 279.74,348.18 279.80,348.37 279.87,348.57 279.94,348.78 280.01,348.99 280.08,349.21 280.16,349.43 280.24,349.67 280.33,349.90 280.41,350.15 280.51,350.39 280.60,350.64 280.70,350.90 280.80,351.16 280.91,351.42 281.01,351.68 281.13,351.95 281.24,352.22 281.36,352.50 281.48,352.77 281.61,353.05 281.74,353.32 281.87,353.60 282.00,353.88 282.14,354.16 282.28,354.44 282.43,354.72 282.57,355.01 282.73,355.29 282.88,355.57 283.04,355.85 283.20,356.13 283.37,356.41 283.53,356.69 283.71,356.97 283.88,357.25 284.06,357.52 284.24,357.80 284.43,358.07 284.62,358.34 284.81,358.62 285.00,358.89 285.20,359.15 285.40,359.42 285.61,359.69 285.81,359.95 286.03,360.21 286.24,360.47 286.46,360.73 286.68,360.99 286.91,361.24 287.13,361.49 287.37,361.75 287.60,361.99 287.84,362.24 288.08,362.49 288.33,362.73 288.57,362.97 288.83,363.21 289.08,363.45 289.34,363.68 289.60,363.92 289.87,364.15 290.13,364.38 290.41,364.60 290.68,364.83 290.96,365.05 291.24,365.27 291.53,365.49 291.81,365.71 292.11,365.92 292.40,366.14 292.70,366.35 293.00,366.56 293.31,366.77 293.62,366.97 293.93,367.18 294.24,367.38 294.56,367.58 294.88,367.78 295.21,367.98 295.53,368.17 295.87,368.37 296.20,368.56 296.54,368.75 296.88,368.93 297.23,369.12 297.57,369.31 297.93,369.49 298.28,369.67 298.64,369.85 299.00,370.03 299.37,370.21 299.74,370.38 300.11,370.55 300.48,370.73 300.86,370.90 301.24,371.07 301.63,371.23 302.01,371.40 302.41,371.56 302.80,371.73 303.20,371.89 303.60,372.05 304.01,372.21 304.41,372.36 304.83,372.52 305.24,372.68 305.66,372.83 306.08,372.98 306.51,373.13 306.94,373.28 307.37,373.43 307.80,373.58 308.24,373.72 308.68,373.87 309.13,374.01 309.57,374.15 310.03,374.29 310.48,374.43 310.94,374.57 311.40,374.71 311.87,374.85 312.33,374.98 312.81,375.11 313.28,375.25 313.76,375.38 314.24,375.51 314.73,375.64 315.21,375.77 315.71,375.90 316.20,376.02 316.70,376.15 317.20,376.27 317.71,376.40 318.21,376.52 318.73,376.64 319.24,376.76 319.76,376.88 320.28,377.00 320.81,377.12 321.33,377.24 321.87,377.35 322.40,377.47 322.94,377.58 323.48,377.70 324.03,377.81 324.57,377.92 325.13,378.03 325.68,378.14 326.24,378.25 326.80,378.36 327.37,378.47 327.94,378.58 328.51,378.68 329.08,378.79 329.66,378.89 330.24,379.00 330.83,379.10 331.41,379.20 332.01,379.31 332.60,379.41 333.20,379.51 333.80,379.61 334.41,379.71 335.01,379.80 335.63,379.90 336.24,380.00 336.86,380.09 337.48,380.19 338.11,380.29 338.74,380.38 339.37,380.47 340.00,380.57 340.64,380.66 341.28,380.75 341.93,380.84 342.57,380.93 343.23,381.02 343.88,381.11 344.54,381.20 345.20,381.29 345.87,381.38 346.53,381.46 347.21,381.55 347.88,381.64 348.56,381.72 349.24,381.81 349.93,381.89 350.62,381.97 351.31,382.06 352.00,382.14 352.70,382.22 353.40,382.30 354.11,382.38 354.81,382.47 355.53,382.55 356.24,382.63 356.96,382.70 357.68,382.78 358.41,382.86 359.13,382.94 359.87,383.02 360.60,383.09 361.34,383.17 362.08,383.25 362.83,383.32 363.57,383.40 364.33,383.47 365.08,383.54 365.84,383.62 366.60,383.69 367.37,383.76 368.13,383.84 368.91,383.91 369.68,383.98 370.46,384.05 371.24,384.12 372.03,384.19 372.81,384.26 373.61,384.33 374.40,384.40 375.20,384.47 376.00,384.54 376.81,384.60 377.62,384.67 378.43,384.74 379.24,384.81 380.06,384.87 380.88,384.94 381.71,385.00 382.53,385.07 383.37,385.13 384.20,385.20 385.04,385.26 385.88,385.33 386.73,385.39 387.57,385.45 388.43,385.52 389.28,385.58 390.14,385.64 391.00,385.70 391.87,385.77 392.74,385.83 393.61,385.89 394.48,385.95 395.36,386.01 396.24,386.07 397.13,386.13 398.01,386.19 398.91,386.25 399.80,386.31 400.70,386.36 401.60,386.42 402.51,386.48 403.42,386.54 404.33,386.59 405.24,386.65 406.16,386.71 407.08,386.76 408.01,386.82 408.94,386.88 409.87,386.93 410.80,386.99 411.74,387.04 412.68,387.10 413.63,387.15 414.57,387.21 415.53,387.26 416.48,387.31 417.44,387.37 418.40,387.42 419.37,387.47 420.33,387.53 421.31,387.58 422.28,387.63 423.26,387.68 424.24,387.73 425.23,387.79 426.21,387.84 427.21,387.89 428.20,387.94 429.20,387.99" fill="none" stroke="#ff2020" stroke-width="1"/><rect x="261.50" y="233.00" width="188.00" height="187.50" fill="none" stroke="#8f8f8f" stroke-width="1"/><line x1="274.20" y1="420.5" x2="274.20" y2="423.1" stroke="#8f8f8f" stroke-width="1"/><text transform="translate(274.20,431.00) scale(1.0,1)" font-size="8.4" text-anchor="middle" fill="#000" style="stroke:none">0</text><line x1="299.20" y1="420.5" x2="299.20" y2="421.9" stroke="#8f8f8f" stroke-width="1"/><line x1="324.20" y1="420.5" x2="324.20" y2="423.1" stroke="#8f8f8f" stroke-width="1"/><text transform="translate(324.20,431.00) scale(1.0,1)" font-size="8.4" text-anchor="middle" fill="#000" style="stroke:none">10</text><line x1="349.20" y1="420.5" x2="349.20" y2="421.9" stroke="#8f8f8f" stroke-width="1"/><line x1="374.20" y1="420.5" x2="374.20" y2="423.1" stroke="#8f8f8f" stroke-width="1"/><text transform="translate(374.20,431.00) scale(1.0,1)" font-size="8.4" text-anchor="middle" fill="#000" style="stroke:none">20</text><line x1="399.20" y1="420.5" x2="399.20" y2="421.9" stroke="#8f8f8f" stroke-width="1"/><line x1="424.20" y1="420.5" x2="424.20" y2="423.1" stroke="#8f8f8f" stroke-width="1"/><text transform="translate(424.20,431.00) scale(1.0,1)" font-size="8.4" text-anchor="middle" fill="#000" style="stroke:none">30</text><line x1="449.20" y1="420.5" x2="449.20" y2="421.9" stroke="#8f8f8f" stroke-width="1"/><line x1="261.5" y1="420.50" x2="258.9" y2="420.50" stroke="#8f8f8f" stroke-width="1"/><text transform="translate(257.20,423.20) scale(0.96,1.1)" font-size="8.4" text-anchor="end" fill="#000" style="stroke:none">0</text><line x1="261.5" y1="389.25" x2="260.1" y2="389.25" stroke="#8f8f8f" stroke-width="1"/><line x1="261.5" y1="358.00" x2="258.9" y2="358.00" stroke="#8f8f8f" stroke-width="1"/><text transform="translate(257.20,360.70) scale(0.96,1.1)" font-size="8.4" text-anchor="end" fill="#000" style="stroke:none">100</text><line x1="261.5" y1="326.75" x2="260.1" y2="326.75" stroke="#8f8f8f" stroke-width="1"/><line x1="261.5" y1="295.50" x2="258.9" y2="295.50" stroke="#8f8f8f" stroke-width="1"/><text transform="translate(257.20,298.20) scale(0.96,1.1)" font-size="8.4" text-anchor="end" fill="#000" style="stroke:none">200</text><line x1="261.5" y1="264.25" x2="260.1" y2="264.25" stroke="#8f8f8f" stroke-width="1"/><line x1="261.5" y1="233.00" x2="258.9" y2="233.00" stroke="#8f8f8f" stroke-width="1"/><text transform="translate(257.20,235.70) scale(0.96,1.1)" font-size="8.4" text-anchor="end" fill="#000" style="stroke:none">300</text><text x="356.10" y="442.40" font-size="10.2" text-anchor="middle" fill="#000">t (min)</text><text transform="translate(241.30,326.75) rotate(-90)" font-size="10.6" text-anchor="middle" fill="#000">C (mg/L)</text><text x="267.00" y="254.40" font-size="20.8" fill="#000" style="stroke:none">e</text><text x="437.90" y="251.80" font-size="10.2" text-anchor="end" fill="#000">Ex-20</text><text x="437.90" y="265.90" font-size="10.2" text-anchor="end" fill="#000">Adj. R<tspan font-size="7.3" dy="-3.8">2</tspan><tspan dy="3.8" dx="0.5">=0.78</tspan></text><text x="437.90" y="281.60" font-size="10.2" text-anchor="end" fill="#000">C=118.60 t<tspan class="sf" style="stroke:none" font-size="7.2" dy="-3.9">−0.24</tspan></text></g>
<g><rect x="497.00" y="233.50" width="186.50" height="186.50" fill="#fbfbfb"/><clipPath id="cl5"><rect x="496.5" y="233.0" width="187.5" height="187.5"/></clipPath><rect x="512.16" y="297.27" width="2.7" height="2.7" fill="#000"/><rect x="514.66" y="351.65" width="2.7" height="2.7" fill="#000"/><rect x="517.17" y="379.46" width="2.7" height="2.7" fill="#000"/><rect x="519.67" y="389.46" width="2.7" height="2.7" fill="#000"/><rect x="522.18" y="396.65" width="2.7" height="2.7" fill="#000"/><rect x="527.19" y="401.65" width="2.7" height="2.7" fill="#000"/><rect x="532.20" y="404.15" width="2.7" height="2.7" fill="#000"/><rect x="537.21" y="406.34" width="2.7" height="2.7" fill="#000"/><rect x="542.22" y="407.27" width="2.7" height="2.7" fill="#000"/><rect x="547.23" y="408.21" width="2.7" height="2.7" fill="#000"/><rect x="552.24" y="409.15" width="2.7" height="2.7" fill="#000"/><rect x="557.25" y="409.46" width="2.7" height="2.7" fill="#000"/><rect x="562.26" y="409.77" width="2.7" height="2.7" fill="#000"/><rect x="572.28" y="410.40" width="2.7" height="2.7" fill="#000"/><rect x="582.30" y="411.34" width="2.7" height="2.7" fill="#000"/><rect x="592.32" y="411.65" width="2.7" height="2.7" fill="#000"/><rect x="602.34" y="411.96" width="2.7" height="2.7" fill="#000"/><rect x="612.36" y="411.96" width="2.7" height="2.7" fill="#000"/><rect x="622.38" y="412.27" width="2.7" height="2.7" fill="#000"/><rect x="632.40" y="412.90" width="2.7" height="2.7" fill="#000"/><rect x="642.42" y="412.90" width="2.7" height="2.7" fill="#000"/><rect x="652.44" y="413.21" width="2.7" height="2.7" fill="#000"/><rect x="662.46" y="413.21" width="2.7" height="2.7" fill="#000"/><polyline clip-path="url(#cl5)" points="513.51,303.32 513.51,303.37 513.52,303.53 513.53,303.78 513.54,304.14 513.55,304.59 513.57,305.14 513.59,305.78 513.62,306.52 513.65,307.34 513.68,308.25 513.71,309.24 513.75,310.30 513.79,311.44 513.84,312.65 513.89,313.91 513.94,315.24 513.99,316.62 514.05,318.05 514.11,319.53 514.18,321.04 514.25,322.59 514.32,324.17 514.39,325.78 514.47,327.41 514.55,329.05 514.64,330.71 514.73,332.38 514.82,334.05 514.91,335.73 515.01,337.40 515.11,339.08 515.22,340.74 515.33,342.40 515.44,344.04 515.56,345.68 515.67,347.29 515.80,348.89 515.92,350.47 516.05,352.03 516.18,353.56 516.32,355.08 516.46,356.57 516.60,358.03 516.74,359.47 516.89,360.88 517.04,362.27 517.20,363.62 517.36,364.96 517.52,366.26 517.68,367.53 517.85,368.78 518.03,370.00 518.20,371.19 518.38,372.36 518.56,373.50 518.75,374.61 518.94,375.69 519.13,376.75 519.32,377.78 519.52,378.79 519.72,379.77 519.93,380.72 520.14,381.66 520.35,382.56 520.57,383.45 520.78,384.31 521.01,385.15 521.23,385.97 521.46,386.76 521.69,387.54 521.93,388.30 522.17,389.03 522.41,389.75 522.65,390.44 522.90,391.12 523.16,391.78 523.41,392.42 523.67,393.05 523.93,393.66 524.20,394.25 524.47,394.83 524.74,395.39 525.01,395.94 525.29,396.47 525.58,396.99 525.86,397.50 526.15,397.99 526.44,398.47 526.74,398.94 527.04,399.39 527.34,399.83 527.64,400.26 527.95,400.68 528.27,401.09 528.58,401.49 528.90,401.88 529.22,402.26 529.55,402.63 529.88,402.99 530.21,403.34 530.55,403.68 530.88,404.01 531.23,404.34 531.57,404.65 531.92,404.96 532.27,405.26 532.63,405.56 532.99,405.84 533.35,406.12 533.72,406.39 534.09,406.66 534.46,406.92 534.83,407.17 535.21,407.42 535.60,407.66 535.98,407.90 536.37,408.13 536.76,408.35 537.16,408.57 537.56,408.78 537.96,408.99 538.37,409.20 538.78,409.40 539.19,409.59 539.60,409.78 540.02,409.97 540.45,410.15 540.87,410.33 541.30,410.50 541.73,410.67 542.17,410.84 542.61,411.00 543.05,411.16 543.50,411.32 543.95,411.47 544.40,411.62 544.85,411.76 545.31,411.91 545.78,412.05 546.24,412.18 546.71,412.32 547.18,412.45 547.66,412.57 548.14,412.70 548.62,412.82 549.11,412.94 549.60,413.06 550.09,413.18 550.59,413.29 551.09,413.40 551.59,413.51 552.09,413.61 552.60,413.72 553.12,413.82 553.63,413.92 554.15,414.02 554.67,414.11 555.20,414.21 555.73,414.30 556.26,414.39 556.80,414.48 557.34,414.57 557.88,414.65 558.43,414.73 558.98,414.82 559.53,414.90 560.08,414.98 560.64,415.05 561.21,415.13 561.77,415.20 562.34,415.28 562.92,415.35 563.49,415.42 564.07,415.49 564.65,415.56 565.24,415.62 565.83,415.69 566.42,415.75 567.02,415.82 567.62,415.88 568.22,415.94 568.83,416.00 569.44,416.06 570.05,416.12 570.67,416.17 571.29,416.23 571.91,416.28 572.53,416.34 573.16,416.39 573.80,416.44 574.43,416.49 575.07,416.55 575.72,416.59 576.36,416.64 577.01,416.69 577.66,416.74 578.32,416.78 578.98,416.83 579.64,416.87 580.31,416.92 580.98,416.96 581.65,417.00 582.33,417.05 583.01,417.09 583.69,417.13 584.38,417.17 585.07,417.21 585.76,417.25 586.46,417.28 587.16,417.32 587.86,417.36 588.57,417.39 589.28,417.43 589.99,417.47 590.71,417.50 591.43,417.53 592.15,417.57 592.88,417.60 593.60,417.63 594.34,417.67 595.07,417.70 595.81,417.73 596.56,417.76 597.30,417.79 598.05,417.82 598.81,417.85 599.56,417.88 600.32,417.90 601.09,417.93 601.85,417.96 602.62,417.99 603.40,418.01 604.17,418.04 604.95,418.07 605.74,418.09 606.52,418.12 607.31,418.14 608.11,418.17 608.90,418.19 609.70,418.22 610.51,418.24 611.31,418.26 612.12,418.28 612.94,418.31 613.75,418.33 614.57,418.35 615.40,418.37 616.22,418.39 617.05,418.42 617.88,418.44 618.72,418.46 619.56,418.48 620.41,418.50 621.25,418.52 622.10,418.54 622.96,418.56 623.81,418.57 624.67,418.59 625.54,418.61 626.40,418.63 627.27,418.65 628.15,418.67 629.02,418.68 629.90,418.70 630.79,418.72 631.67,418.73 632.56,418.75 633.46,418.77 634.35,418.78 635.25,418.80 636.16,418.81 637.06,418.83 637.97,418.85 638.89,418.86 639.80,418.88 640.72,418.89 641.65,418.91 642.57,418.92 643.50,418.93 644.44,418.95 645.37,418.96 646.32,418.98 647.26,418.99 648.21,419.00 649.16,419.02 650.11,419.03 651.07,419.04 652.03,419.05 652.99,419.07 653.96,419.08 654.93,419.09 655.90,419.10 656.88,419.12 657.86,419.13 658.84,419.14 659.83,419.15 660.82,419.16 661.81,419.17 662.81,419.19 663.81,419.20" fill="none" stroke="#ff2020" stroke-width="1"/><rect x="496.50" y="233.00" width="187.50" height="187.50" fill="none" stroke="#8f8f8f" stroke-width="1"/><line x1="508.50" y1="420.5" x2="508.50" y2="423.1" stroke="#8f8f8f" stroke-width="1"/><text transform="translate(508.50,431.00) scale(1.0,1)" font-size="8.4" text-anchor="middle" fill="#000" style="stroke:none">0</text><line x1="533.55" y1="420.5" x2="533.55" y2="421.9" stroke="#8f8f8f" stroke-width="1"/><line x1="558.60" y1="420.5" x2="558.60" y2="423.1" stroke="#8f8f8f" stroke-width="1"/><text transform="translate(558.60,431.00) scale(1.0,1)" font-size="8.4" text-anchor="middle" fill="#000" style="stroke:none">10</text><line x1="583.65" y1="420.5" x2="583.65" y2="421.9" stroke="#8f8f8f" stroke-width="1"/><line x1="608.70" y1="420.5" x2="608.70" y2="423.1" stroke="#8f8f8f" stroke-width="1"/><text transform="translate(608.70,431.00) scale(1.0,1)" font-size="8.4" text-anchor="middle" fill="#000" style="stroke:none">20</text><line x1="633.75" y1="420.5" x2="633.75" y2="421.9" stroke="#8f8f8f" stroke-width="1"/><line x1="658.80" y1="420.5" x2="658.80" y2="423.1" stroke="#8f8f8f" stroke-width="1"/><text transform="translate(658.80,431.00) scale(1.0,1)" font-size="8.4" text-anchor="middle" fill="#000" style="stroke:none">30</text><line x1="683.85" y1="420.5" x2="683.85" y2="421.9" stroke="#8f8f8f" stroke-width="1"/><line x1="496.5" y1="420.50" x2="493.9" y2="420.50" stroke="#8f8f8f" stroke-width="1"/><text transform="translate(492.20,423.20) scale(0.96,1.1)" font-size="8.4" text-anchor="end" fill="#000" style="stroke:none">0</text><line x1="496.5" y1="404.88" x2="495.1" y2="404.88" stroke="#8f8f8f" stroke-width="1"/><line x1="496.5" y1="389.25" x2="493.9" y2="389.25" stroke="#8f8f8f" stroke-width="1"/><text transform="translate(492.20,391.95) scale(0.96,1.1)" font-size="8.4" text-anchor="end" fill="#000" style="stroke:none">1</text><line x1="496.5" y1="373.62" x2="495.1" y2="373.62" stroke="#8f8f8f" stroke-width="1"/><line x1="496.5" y1="358.00" x2="493.9" y2="358.00" stroke="#8f8f8f" stroke-width="1"/><text transform="translate(492.20,360.70) scale(0.96,1.1)" font-size="8.4" text-anchor="end" fill="#000" style="stroke:none">2</text><line x1="496.5" y1="342.38" x2="495.1" y2="342.38" stroke="#8f8f8f" stroke-width="1"/><line x1="496.5" y1="326.75" x2="493.9" y2="326.75" stroke="#8f8f8f" stroke-width="1"/><text transform="translate(492.20,329.45) scale(0.96,1.1)" font-size="8.4" text-anchor="end" fill="#000" style="stroke:none">3</text><line x1="496.5" y1="311.12" x2="495.1" y2="311.12" stroke="#8f8f8f" stroke-width="1"/><line x1="496.5" y1="295.50" x2="493.9" y2="295.50" stroke="#8f8f8f" stroke-width="1"/><text transform="translate(492.20,298.20) scale(0.96,1.1)" font-size="8.4" text-anchor="end" fill="#000" style="stroke:none">4</text><line x1="496.5" y1="279.88" x2="495.1" y2="279.88" stroke="#8f8f8f" stroke-width="1"/><line x1="496.5" y1="264.25" x2="493.9" y2="264.25" stroke="#8f8f8f" stroke-width="1"/><text transform="translate(492.20,266.95) scale(0.96,1.1)" font-size="8.4" text-anchor="end" fill="#000" style="stroke:none">5</text><line x1="496.5" y1="248.62" x2="495.1" y2="248.62" stroke="#8f8f8f" stroke-width="1"/><line x1="496.5" y1="233.00" x2="493.9" y2="233.00" stroke="#8f8f8f" stroke-width="1"/><text transform="translate(492.20,235.70) scale(0.96,1.1)" font-size="8.4" text-anchor="end" fill="#000" style="stroke:none">6</text><text x="496.70" y="231.00" font-size="8.3" fill="#000">×10<tspan font-size="5.8" dy="-3.0" style="stroke:none">3</tspan></text><text x="591.35" y="442.40" font-size="10.2" text-anchor="middle" fill="#000">t (min)</text><text transform="translate(475.20,326.75) rotate(-90)" font-size="10.6" text-anchor="middle" fill="#000">C (mg/L)</text><text x="502.90" y="254.40" font-size="20.8" fill="#000" style="stroke:none">f</text><text x="673.60" y="251.80" font-size="10.2" text-anchor="end" fill="#000">Ex-19</text><text x="673.60" y="265.90" font-size="10.2" text-anchor="end" fill="#000">Adj. R<tspan font-size="7.3" dy="-3.8">2</tspan><tspan dy="3.8" dx="0.5">=0.97</tspan></text><text x="673.60" y="281.60" font-size="10.2" text-anchor="end" fill="#000">C=3749.68 t<tspan class="sf" style="stroke:none" font-size="7.2" dy="-3.9">−1.31</tspan></text></g>
<g><rect x="27.50" y="456.00" width="186.50" height="187.00" fill="#fbfbfb"/><clipPath id="cl6"><rect x="27.0" y="455.5" width="187.5" height="188.0"/></clipPath><rect x="43.10" y="546.90" width="2.7" height="2.7" fill="#000"/><rect x="45.60" y="467.31" width="2.7" height="2.7" fill="#000"/><rect x="48.10" y="493.63" width="2.7" height="2.7" fill="#000"/><rect x="50.60" y="546.90" width="2.7" height="2.7" fill="#000"/><rect x="53.09" y="581.68" width="2.7" height="2.7" fill="#000"/><rect x="58.09" y="599.85" width="2.7" height="2.7" fill="#000"/><rect x="63.09" y="614.26" width="2.7" height="2.7" fill="#000"/><rect x="68.09" y="620.22" width="2.7" height="2.7" fill="#000"/><rect x="73.09" y="623.66" width="2.7" height="2.7" fill="#000"/><rect x="78.08" y="625.86" width="2.7" height="2.7" fill="#000"/><rect x="83.08" y="627.42" width="2.7" height="2.7" fill="#000"/><rect x="88.08" y="628.36" width="2.7" height="2.7" fill="#000"/><rect x="93.08" y="628.99" width="2.7" height="2.7" fill="#000"/><rect x="103.07" y="630.56" width="2.7" height="2.7" fill="#000"/><rect x="113.07" y="631.81" width="2.7" height="2.7" fill="#000"/><rect x="123.07" y="632.44" width="2.7" height="2.7" fill="#000"/><rect x="133.06" y="633.38" width="2.7" height="2.7" fill="#000"/><rect x="143.06" y="634.00" width="2.7" height="2.7" fill="#000"/><rect x="153.05" y="634.32" width="2.7" height="2.7" fill="#000"/><rect x="163.05" y="634.32" width="2.7" height="2.7" fill="#000"/><rect x="173.05" y="634.94" width="2.7" height="2.7" fill="#000"/><rect x="183.04" y="634.94" width="2.7" height="2.7" fill="#000"/><rect x="193.04" y="635.26" width="2.7" height="2.7" fill="#000"/><polyline clip-path="url(#cl6)" points="44.45,485.71 44.45,485.75 44.45,485.88 44.46,486.10 44.47,486.40 44.49,486.78 44.51,487.25 44.53,487.79 44.55,488.42 44.58,489.12 44.61,489.90 44.65,490.74 44.69,491.66 44.73,492.64 44.77,493.69 44.82,494.79 44.87,495.96 44.93,497.17 44.99,498.44 45.05,499.75 45.11,501.10 45.18,502.49 45.25,503.92 45.33,505.38 45.41,506.87 45.49,508.39 45.57,509.93 45.66,511.49 45.75,513.06 45.85,514.65 45.95,516.25 46.05,517.86 46.15,519.48 46.26,521.10 46.37,522.72 46.49,524.34 46.61,525.95 46.73,527.57 46.85,529.17 46.98,530.77 47.11,532.36 47.25,533.94 47.39,535.51 47.53,537.06 47.67,538.61 47.82,540.13 47.97,541.64 48.13,543.14 48.29,544.61 48.45,546.07 48.61,547.51 48.78,548.93 48.95,550.33 49.13,551.72 49.31,553.08 49.49,554.43 49.67,555.75 49.86,557.05 50.05,558.33 50.25,559.60 50.45,560.84 50.65,562.06 50.85,563.26 51.06,564.45 51.27,565.61 51.49,566.75 51.71,567.87 51.93,568.98 52.15,570.06 52.38,571.13 52.61,572.17 52.85,573.20 53.08,574.21 53.33,575.20 53.57,576.17 53.82,577.13 54.07,578.06 54.33,578.98 54.58,579.89 54.85,580.78 55.11,581.65 55.38,582.50 55.65,583.34 55.93,584.17 56.20,584.98 56.48,585.77 56.77,586.55 57.06,587.32 57.35,588.07 57.64,588.81 57.94,589.53 58.24,590.24 58.55,590.94 58.86,591.62 59.17,592.30 59.48,592.96 59.80,593.61 60.12,594.24 60.45,594.87 60.78,595.48 61.11,596.09 61.44,596.68 61.78,597.26 62.12,597.84 62.47,598.40 62.82,598.95 63.17,599.49 63.52,600.02 63.88,600.55 64.24,601.06 64.61,601.57 64.97,602.06 65.35,602.55 65.72,603.03 66.10,603.50 66.48,603.97 66.87,604.42 67.25,604.87 67.65,605.31 68.04,605.74 68.44,606.17 68.84,606.59 69.24,607.00 69.65,607.40 70.06,607.80 70.48,608.19 70.90,608.58 71.32,608.96 71.74,609.33 72.17,609.70 72.60,610.06 73.04,610.42 73.48,610.77 73.92,611.11 74.36,611.45 74.81,611.78 75.26,612.11 75.72,612.43 76.18,612.75 76.64,613.06 77.10,613.37 77.57,613.68 78.04,613.98 78.52,614.27 78.99,614.56 79.48,614.85 79.96,615.13 80.45,615.41 80.94,615.68 81.43,615.95 81.93,616.21 82.43,616.47 82.94,616.73 83.45,616.99 83.96,617.24 84.47,617.48 84.99,617.73 85.51,617.96 86.04,618.20 86.57,618.43 87.10,618.66 87.63,618.89 88.17,619.11 88.71,619.33 89.26,619.55 89.80,619.76 90.36,619.97 90.91,620.18 91.47,620.39 92.03,620.59 92.60,620.79 93.16,620.99 93.73,621.18 94.31,621.37 94.89,621.56 95.47,621.75 96.05,621.93 96.64,622.12 97.23,622.30 97.83,622.47 98.43,622.65 99.03,622.82 99.63,622.99 100.24,623.16 100.85,623.33 101.47,623.49 102.08,623.65 102.71,623.81 103.33,623.97 103.96,624.13 104.59,624.28 105.23,624.43 105.86,624.58 106.50,624.73 107.15,624.88 107.80,625.02 108.45,625.17 109.10,625.31 109.76,625.45 110.42,625.59 111.09,625.72 111.76,625.86 112.43,625.99 113.10,626.12 113.78,626.25 114.46,626.38 115.15,626.51 115.83,626.63 116.53,626.76 117.22,626.88 117.92,627.00 118.62,627.12 119.32,627.24 120.03,627.36 120.74,627.47 121.46,627.59 122.18,627.70 122.90,627.81 123.62,627.92 124.35,628.03 125.08,628.14 125.82,628.25 126.56,628.36 127.30,628.46 128.04,628.56 128.79,628.67 129.54,628.77 130.30,628.87 131.05,628.97 131.81,629.07 132.58,629.16 133.35,629.26 134.12,629.35 134.89,629.45 135.67,629.54 136.45,629.63 137.24,629.73 138.03,629.82 138.82,629.91 139.61,629.99 140.41,630.08 141.21,630.17 142.02,630.25 142.82,630.34 143.63,630.42 144.45,630.51 145.27,630.59 146.09,630.67 146.91,630.75 147.74,630.83 148.57,630.91 149.41,630.99 150.25,631.07 151.09,631.14 151.93,631.22 152.78,631.30 153.63,631.37 154.49,631.44 155.34,631.52 156.20,631.59 157.07,631.66 157.94,631.73 158.81,631.80 159.68,631.87 160.56,631.94 161.44,632.01 162.33,632.08 163.22,632.15 164.11,632.21 165.00,632.28 165.90,632.34 166.80,632.41 167.71,632.47 168.61,632.54 169.52,632.60 170.44,632.66 171.36,632.72 172.28,632.78 173.20,632.85 174.13,632.91 175.06,632.97 176.00,633.02 176.93,633.08 177.88,633.14 178.82,633.20 179.77,633.26 180.72,633.31 181.67,633.37 182.63,633.42 183.59,633.48 184.56,633.53 185.53,633.59 186.50,633.64 187.47,633.70 188.45,633.75 189.43,633.80 190.42,633.85 191.40,633.90 192.40,633.96 193.39,634.01 194.39,634.06" fill="none" stroke="#ff2020" stroke-width="1"/><rect x="27.00" y="455.50" width="187.50" height="188.00" fill="none" stroke="#8f8f8f" stroke-width="1"/><line x1="39.45" y1="643.5" x2="39.45" y2="646.1" stroke="#8f8f8f" stroke-width="1"/><text transform="translate(39.45,654.00) scale(1.0,1)" font-size="8.4" text-anchor="middle" fill="#000" style="stroke:none">0</text><line x1="64.44" y1="643.5" x2="64.44" y2="644.9" stroke="#8f8f8f" stroke-width="1"/><line x1="89.43" y1="643.5" x2="89.43" y2="646.1" stroke="#8f8f8f" stroke-width="1"/><text transform="translate(89.43,654.00) scale(1.0,1)" font-size="8.4" text-anchor="middle" fill="#000" style="stroke:none">10</text><line x1="114.42" y1="643.5" x2="114.42" y2="644.9" stroke="#8f8f8f" stroke-width="1"/><line x1="139.41" y1="643.5" x2="139.41" y2="646.1" stroke="#8f8f8f" stroke-width="1"/><text transform="translate(139.41,654.00) scale(1.0,1)" font-size="8.4" text-anchor="middle" fill="#000" style="stroke:none">20</text><line x1="164.40" y1="643.5" x2="164.40" y2="644.9" stroke="#8f8f8f" stroke-width="1"/><line x1="189.39" y1="643.5" x2="189.39" y2="646.1" stroke="#8f8f8f" stroke-width="1"/><text transform="translate(189.39,654.00) scale(1.0,1)" font-size="8.4" text-anchor="middle" fill="#000" style="stroke:none">30</text><line x1="214.38" y1="643.5" x2="214.38" y2="644.9" stroke="#8f8f8f" stroke-width="1"/><line x1="27.0" y1="643.50" x2="24.4" y2="643.50" stroke="#8f8f8f" stroke-width="1"/><text transform="translate(22.70,646.20) scale(0.96,1.1)" font-size="8.4" text-anchor="end" fill="#000" style="stroke:none">0</text><line x1="27.0" y1="627.83" x2="25.6" y2="627.83" stroke="#8f8f8f" stroke-width="1"/><line x1="27.0" y1="612.17" x2="24.4" y2="612.17" stroke="#8f8f8f" stroke-width="1"/><text transform="translate(22.70,614.87) scale(0.96,1.1)" font-size="8.4" text-anchor="end" fill="#000" style="stroke:none">1</text><line x1="27.0" y1="596.50" x2="25.6" y2="596.50" stroke="#8f8f8f" stroke-width="1"/><line x1="27.0" y1="580.83" x2="24.4" y2="580.83" stroke="#8f8f8f" stroke-width="1"/><text transform="translate(22.70,583.53) scale(0.96,1.1)" font-size="8.4" text-anchor="end" fill="#000" style="stroke:none">2</text><line x1="27.0" y1="565.17" x2="25.6" y2="565.17" stroke="#8f8f8f" stroke-width="1"/><line x1="27.0" y1="549.50" x2="24.4" y2="549.50" stroke="#8f8f8f" stroke-width="1"/><text transform="translate(22.70,552.20) scale(0.96,1.1)" font-size="8.4" text-anchor="end" fill="#000" style="stroke:none">3</text><line x1="27.0" y1="533.83" x2="25.6" y2="533.83" stroke="#8f8f8f" stroke-width="1"/><line x1="27.0" y1="518.17" x2="24.4" y2="518.17" stroke="#8f8f8f" stroke-width="1"/><text transform="translate(22.70,520.87) scale(0.96,1.1)" font-size="8.4" text-anchor="end" fill="#000" style="stroke:none">4</text><line x1="27.0" y1="502.50" x2="25.6" y2="502.50" stroke="#8f8f8f" stroke-width="1"/><line x1="27.0" y1="486.83" x2="24.4" y2="486.83" stroke="#8f8f8f" stroke-width="1"/><text transform="translate(22.70,489.53) scale(0.96,1.1)" font-size="8.4" text-anchor="end" fill="#000" style="stroke:none">5</text><line x1="27.0" y1="471.17" x2="25.6" y2="471.17" stroke="#8f8f8f" stroke-width="1"/><line x1="27.0" y1="455.50" x2="24.4" y2="455.50" stroke="#8f8f8f" stroke-width="1"/><text transform="translate(22.70,458.20) scale(0.96,1.1)" font-size="8.4" text-anchor="end" fill="#000" style="stroke:none">6</text><text x="27.20" y="453.50" font-size="8.3" fill="#000">×10<tspan font-size="5.8" dy="-3.0" style="stroke:none">3</tspan></text><text x="121.35" y="664.40" font-size="10.2" text-anchor="middle" fill="#000">t (min)</text><text transform="translate(9.40,549.50) rotate(-90)" font-size="10.6" text-anchor="middle" fill="#000">C (mg/L)</text><text x="32.00" y="476.90" font-size="20.8" fill="#000" style="stroke:none">g</text><text x="203.00" y="475.00" font-size="10.2" text-anchor="end" fill="#000">Ex-13</text><text x="203.00" y="489.10" font-size="10.2" text-anchor="end" fill="#000">Adj. R<tspan font-size="7.3" dy="-3.8">2</tspan><tspan dy="3.8" dx="0.5">=0.73</tspan></text><text x="203.00" y="504.80" font-size="10.2" text-anchor="end" fill="#000">C=5035.87 t<tspan class="sf" style="stroke:none" font-size="7.2" dy="-3.9">−0.82</tspan></text></g>
<g><rect x="262.00" y="456.00" width="187.00" height="187.00" fill="#fbfbfb"/><clipPath id="cl7"><rect x="261.5" y="455.5" width="188.0" height="188.0"/></clipPath><rect x="277.85" y="500.90" width="2.7" height="2.7" fill="#000"/><rect x="280.35" y="525.84" width="2.7" height="2.7" fill="#000"/><rect x="282.85" y="517.44" width="2.7" height="2.7" fill="#000"/><rect x="285.35" y="527.22" width="2.7" height="2.7" fill="#000"/><rect x="287.85" y="542.07" width="2.7" height="2.7" fill="#000"/><rect x="292.85" y="549.53" width="2.7" height="2.7" fill="#000"/><rect x="297.85" y="557.05" width="2.7" height="2.7" fill="#000"/><rect x="302.85" y="563.06" width="2.7" height="2.7" fill="#000"/><rect x="307.85" y="565.13" width="2.7" height="2.7" fill="#000"/><rect x="312.85" y="567.83" width="2.7" height="2.7" fill="#000"/><rect x="317.85" y="570.84" width="2.7" height="2.7" fill="#000"/><rect x="322.85" y="571.84" width="2.7" height="2.7" fill="#000"/><rect x="327.85" y="574.28" width="2.7" height="2.7" fill="#000"/><rect x="337.85" y="577.29" width="2.7" height="2.7" fill="#000"/><rect x="347.85" y="579.98" width="2.7" height="2.7" fill="#000"/><rect x="357.85" y="581.68" width="2.7" height="2.7" fill="#000"/><rect x="367.85" y="584.00" width="2.7" height="2.7" fill="#000"/><rect x="377.85" y="585.37" width="2.7" height="2.7" fill="#000"/><rect x="387.85" y="586.82" width="2.7" height="2.7" fill="#000"/><rect x="397.85" y="587.63" width="2.7" height="2.7" fill="#000"/><rect x="407.85" y="588.57" width="2.7" height="2.7" fill="#000"/><rect x="417.85" y="588.88" width="2.7" height="2.7" fill="#000"/><rect x="427.85" y="589.57" width="2.7" height="2.7" fill="#000"/><polyline clip-path="url(#cl7)" points="279.20,502.26 279.20,502.27 279.21,502.31 279.21,502.38 279.23,502.48 279.24,502.61 279.26,502.76 279.28,502.94 279.31,503.15 279.33,503.38 279.37,503.64 279.40,503.92 279.44,504.23 279.48,504.56 279.53,504.91 279.57,505.29 279.63,505.68 279.68,506.10 279.74,506.54 279.80,506.99 279.87,507.46 279.94,507.95 280.01,508.45 280.08,508.97 280.16,509.51 280.24,510.05 280.33,510.61 280.41,511.18 280.51,511.76 280.60,512.35 280.70,512.95 280.80,513.55 280.91,514.17 281.01,514.79 281.13,515.41 281.24,516.04 281.36,516.68 281.48,517.32 281.61,517.96 281.74,518.61 281.87,519.25 282.00,519.90 282.14,520.55 282.28,521.20 282.43,521.85 282.57,522.51 282.73,523.15 282.88,523.80 283.04,524.45 283.20,525.10 283.37,525.74 283.53,526.38 283.71,527.02 283.88,527.66 284.06,528.29 284.24,528.92 284.43,529.54 284.62,530.16 284.81,530.78 285.00,531.40 285.20,532.01 285.40,532.61 285.61,533.22 285.81,533.81 286.03,534.41 286.24,534.99 286.46,535.58 286.68,536.16 286.91,536.73 287.13,537.30 287.37,537.86 287.60,538.42 287.84,538.98 288.08,539.52 288.33,540.07 288.57,540.61 288.83,541.14 289.08,541.67 289.34,542.20 289.60,542.72 289.87,543.23 290.13,543.74 290.41,544.24 290.68,544.74 290.96,545.24 291.24,545.73 291.53,546.21 291.81,546.70 292.11,547.17 292.40,547.64 292.70,548.11 293.00,548.57 293.31,549.03 293.62,549.48 293.93,549.93 294.24,550.37 294.56,550.81 294.88,551.25 295.21,551.68 295.53,552.10 295.87,552.52 296.20,552.94 296.54,553.36 296.88,553.77 297.23,554.17 297.57,554.57 297.93,554.97 298.28,555.36 298.64,555.75 299.00,556.14 299.37,556.52 299.74,556.90 300.11,557.27 300.48,557.64 300.86,558.01 301.24,558.38 301.63,558.74 302.01,559.09 302.41,559.45 302.80,559.80 303.20,560.14 303.60,560.49 304.01,560.83 304.41,561.16 304.83,561.50 305.24,561.83 305.66,562.15 306.08,562.48 306.51,562.80 306.94,563.12 307.37,563.43 307.80,563.75 308.24,564.06 308.68,564.36 309.13,564.67 309.57,564.97 310.03,565.27 310.48,565.56 310.94,565.85 311.40,566.14 311.87,566.43 312.33,566.72 312.81,567.00 313.28,567.28 313.76,567.56 314.24,567.83 314.73,568.11 315.21,568.38 315.71,568.64 316.20,568.91 316.70,569.17 317.20,569.43 317.71,569.69 318.21,569.95 318.73,570.20 319.24,570.46 319.76,570.71 320.28,570.96 320.81,571.20 321.33,571.45 321.87,571.69 322.40,571.93 322.94,572.17 323.48,572.40 324.03,572.64 324.57,572.87 325.13,573.10 325.68,573.33 326.24,573.55 326.80,573.78 327.37,574.00 327.94,574.22 328.51,574.44 329.08,574.66 329.66,574.88 330.24,575.09 330.83,575.30 331.41,575.52 332.01,575.73 332.60,575.93 333.20,576.14 333.80,576.34 334.41,576.55 335.01,576.75 335.63,576.95 336.24,577.15 336.86,577.34 337.48,577.54 338.11,577.73 338.74,577.93 339.37,578.12 340.00,578.31 340.64,578.50 341.28,578.68 341.93,578.87 342.57,579.05 343.23,579.24 343.88,579.42 344.54,579.60 345.20,579.78 345.87,579.96 346.53,580.13 347.21,580.31 347.88,580.48 348.56,580.66 349.24,580.83 349.93,581.00 350.62,581.17 351.31,581.34 352.00,581.50 352.70,581.67 353.40,581.83 354.11,582.00 354.81,582.16 355.53,582.32 356.24,582.48 356.96,582.64 357.68,582.80 358.41,582.96 359.13,583.11 359.87,583.27 360.60,583.42 361.34,583.58 362.08,583.73 362.83,583.88 363.57,584.03 364.33,584.18 365.08,584.33 365.84,584.47 366.60,584.62 367.37,584.77 368.13,584.91 368.91,585.05 369.68,585.20 370.46,585.34 371.24,585.48 372.03,585.62 372.81,585.76 373.61,585.90 374.40,586.04 375.20,586.17 376.00,586.31 376.81,586.44 377.62,586.58 378.43,586.71 379.24,586.84 380.06,586.97 380.88,587.11 381.71,587.24 382.53,587.37 383.37,587.49 384.20,587.62 385.04,587.75 385.88,587.88 386.73,588.00 387.57,588.13 388.43,588.25 389.28,588.37 390.14,588.50 391.00,588.62 391.87,588.74 392.74,588.86 393.61,588.98 394.48,589.10 395.36,589.22 396.24,589.34 397.13,589.45 398.01,589.57 398.91,589.69 399.80,589.80 400.70,589.92 401.60,590.03 402.51,590.14 403.42,590.26 404.33,590.37 405.24,590.48 406.16,590.59 407.08,590.70 408.01,590.81 408.94,590.92 409.87,591.03 410.80,591.14 411.74,591.24 412.68,591.35 413.63,591.46 414.57,591.56 415.53,591.67 416.48,591.77 417.44,591.88 418.40,591.98 419.37,592.08 420.33,592.19 421.31,592.29 422.28,592.39 423.26,592.49 424.24,592.59 425.23,592.69 426.21,592.79 427.21,592.89 428.20,592.99 429.20,593.08" fill="none" stroke="#ff2020" stroke-width="1"/><rect x="261.50" y="455.50" width="188.00" height="188.00" fill="none" stroke="#8f8f8f" stroke-width="1"/><line x1="274.20" y1="643.5" x2="274.20" y2="646.1" stroke="#8f8f8f" stroke-width="1"/><text transform="translate(274.20,654.00) scale(1.0,1)" font-size="8.4" text-anchor="middle" fill="#000" style="stroke:none">0</text><line x1="299.20" y1="643.5" x2="299.20" y2="644.9" stroke="#8f8f8f" stroke-width="1"/><line x1="324.20" y1="643.5" x2="324.20" y2="646.1" stroke="#8f8f8f" stroke-width="1"/><text transform="translate(324.20,654.00) scale(1.0,1)" font-size="8.4" text-anchor="middle" fill="#000" style="stroke:none">10</text><line x1="349.20" y1="643.5" x2="349.20" y2="644.9" stroke="#8f8f8f" stroke-width="1"/><line x1="374.20" y1="643.5" x2="374.20" y2="646.1" stroke="#8f8f8f" stroke-width="1"/><text transform="translate(374.20,654.00) scale(1.0,1)" font-size="8.4" text-anchor="middle" fill="#000" style="stroke:none">20</text><line x1="399.20" y1="643.5" x2="399.20" y2="644.9" stroke="#8f8f8f" stroke-width="1"/><line x1="424.20" y1="643.5" x2="424.20" y2="646.1" stroke="#8f8f8f" stroke-width="1"/><text transform="translate(424.20,654.00) scale(1.0,1)" font-size="8.4" text-anchor="middle" fill="#000" style="stroke:none">30</text><line x1="449.20" y1="643.5" x2="449.20" y2="644.9" stroke="#8f8f8f" stroke-width="1"/><line x1="261.5" y1="643.50" x2="258.9" y2="643.50" stroke="#8f8f8f" stroke-width="1"/><text transform="translate(257.20,646.20) scale(0.96,1.1)" font-size="8.4" text-anchor="end" fill="#000" style="stroke:none">0</text><line x1="261.5" y1="612.17" x2="260.1" y2="612.17" stroke="#8f8f8f" stroke-width="1"/><line x1="261.5" y1="580.83" x2="258.9" y2="580.83" stroke="#8f8f8f" stroke-width="1"/><text transform="translate(257.20,583.53) scale(0.96,1.1)" font-size="8.4" text-anchor="end" fill="#000" style="stroke:none">100</text><line x1="261.5" y1="549.50" x2="260.1" y2="549.50" stroke="#8f8f8f" stroke-width="1"/><line x1="261.5" y1="518.17" x2="258.9" y2="518.17" stroke="#8f8f8f" stroke-width="1"/><text transform="translate(257.20,520.87) scale(0.96,1.1)" font-size="8.4" text-anchor="end" fill="#000" style="stroke:none">200</text><line x1="261.5" y1="486.83" x2="260.1" y2="486.83" stroke="#8f8f8f" stroke-width="1"/><line x1="261.5" y1="455.50" x2="258.9" y2="455.50" stroke="#8f8f8f" stroke-width="1"/><text transform="translate(257.20,458.20) scale(0.96,1.1)" font-size="8.4" text-anchor="end" fill="#000" style="stroke:none">300</text><text x="356.10" y="664.40" font-size="10.2" text-anchor="middle" fill="#000">t (min)</text><text transform="translate(241.30,549.50) rotate(-90)" font-size="10.6" text-anchor="middle" fill="#000">C (mg/L)</text><text x="267.00" y="476.90" font-size="20.8" fill="#000" style="stroke:none">h</text><text x="437.90" y="475.00" font-size="10.2" text-anchor="end" fill="#000">Ex-21</text><text x="437.90" y="489.10" font-size="10.2" text-anchor="end" fill="#000">Adj. R<tspan font-size="7.3" dy="-3.8">2</tspan><tspan dy="3.8" dx="0.5">=0.98</tspan></text><text x="437.90" y="504.80" font-size="10.2" text-anchor="end" fill="#000">C=225.39 t<tspan class="sf" style="stroke:none" font-size="7.2" dy="-3.9">−0.30</tspan></text></g>
<g><rect x="497.00" y="456.00" width="186.50" height="187.00" fill="#fbfbfb"/><clipPath id="cl8"><rect x="496.5" y="455.5" width="187.5" height="188.0"/></clipPath><rect x="512.16" y="481.50" width="2.7" height="2.7" fill="#000"/><rect x="514.66" y="505.50" width="2.7" height="2.7" fill="#000"/><rect x="517.17" y="536.96" width="2.7" height="2.7" fill="#000"/><rect x="519.67" y="550.81" width="2.7" height="2.7" fill="#000"/><rect x="522.18" y="560.63" width="2.7" height="2.7" fill="#000"/><rect x="527.19" y="569.75" width="2.7" height="2.7" fill="#000"/><rect x="532.20" y="573.18" width="2.7" height="2.7" fill="#000"/><rect x="537.21" y="577.88" width="2.7" height="2.7" fill="#000"/><rect x="542.22" y="580.27" width="2.7" height="2.7" fill="#000"/><rect x="547.23" y="585.00" width="2.7" height="2.7" fill="#000"/><rect x="552.24" y="588.01" width="2.7" height="2.7" fill="#000"/><rect x="557.25" y="590.12" width="2.7" height="2.7" fill="#000"/><rect x="562.26" y="593.41" width="2.7" height="2.7" fill="#000"/><rect x="572.28" y="596.82" width="2.7" height="2.7" fill="#000"/><rect x="582.30" y="599.24" width="2.7" height="2.7" fill="#000"/><rect x="592.32" y="600.93" width="2.7" height="2.7" fill="#000"/><rect x="602.34" y="602.65" width="2.7" height="2.7" fill="#000"/><rect x="612.36" y="603.85" width="2.7" height="2.7" fill="#000"/><rect x="622.38" y="605.25" width="2.7" height="2.7" fill="#000"/><rect x="632.40" y="605.96" width="2.7" height="2.7" fill="#000"/><rect x="642.42" y="607.16" width="2.7" height="2.7" fill="#000"/><rect x="652.44" y="607.96" width="2.7" height="2.7" fill="#000"/><rect x="662.46" y="609.04" width="2.7" height="2.7" fill="#000"/><polyline clip-path="url(#cl8)" points="513.51,489.15 513.51,489.18 513.52,489.25 513.53,489.38 513.54,489.55 513.55,489.77 513.57,490.04 513.59,490.35 513.62,490.71 513.65,491.12 513.68,491.56 513.71,492.06 513.75,492.59 513.79,493.16 513.84,493.77 513.89,494.42 513.94,495.10 513.99,495.82 514.05,496.57 514.11,497.35 514.18,498.15 514.25,498.99 514.32,499.85 514.39,500.73 514.47,501.63 514.55,502.56 514.64,503.50 514.73,504.46 514.82,505.43 514.91,506.42 515.01,507.42 515.11,508.43 515.22,509.45 515.33,510.47 515.44,511.51 515.56,512.55 515.67,513.59 515.80,514.64 515.92,515.69 516.05,516.73 516.18,517.78 516.32,518.83 516.46,519.88 516.60,520.93 516.74,521.97 516.89,523.01 517.04,524.04 517.20,525.07 517.36,526.09 517.52,527.11 517.68,528.12 517.85,529.12 518.03,530.12 518.20,531.11 518.38,532.09 518.56,533.06 518.75,534.02 518.94,534.98 519.13,535.92 519.32,536.86 519.52,537.79 519.72,538.70 519.93,539.61 520.14,540.51 520.35,541.40 520.57,542.28 520.78,543.15 521.01,544.01 521.23,544.86 521.46,545.70 521.69,546.53 521.93,547.35 522.17,548.16 522.41,548.96 522.65,549.75 522.90,550.53 523.16,551.30 523.41,552.06 523.67,552.81 523.93,553.56 524.20,554.29 524.47,555.01 524.74,555.73 525.01,556.44 525.29,557.13 525.58,557.82 525.86,558.50 526.15,559.17 526.44,559.83 526.74,560.49 527.04,561.13 527.34,561.77 527.64,562.40 527.95,563.02 528.27,563.63 528.58,564.24 528.90,564.83 529.22,565.42 529.55,566.01 529.88,566.58 530.21,567.15 530.55,567.71 530.88,568.26 531.23,568.81 531.57,569.35 531.92,569.88 532.27,570.41 532.63,570.92 532.99,571.44 533.35,571.94 533.72,572.44 534.09,572.94 534.46,573.43 534.83,573.91 535.21,574.38 535.60,574.85 535.98,575.32 536.37,575.78 536.76,576.23 537.16,576.68 537.56,577.12 537.96,577.56 538.37,577.99 538.78,578.41 539.19,578.83 539.60,579.25 540.02,579.66 540.45,580.07 540.87,580.47 541.30,580.87 541.73,581.26 542.17,581.65 542.61,582.03 543.05,582.41 543.50,582.79 543.95,583.16 544.40,583.52 544.85,583.89 545.31,584.24 545.78,584.60 546.24,584.95 546.71,585.29 547.18,585.64 547.66,585.98 548.14,586.31 548.62,586.64 549.11,586.97 549.60,587.29 550.09,587.61 550.59,587.93 551.09,588.24 551.59,588.56 552.09,588.86 552.60,589.17 553.12,589.47 553.63,589.76 554.15,590.06 554.67,590.35 555.20,590.64 555.73,590.92 556.26,591.21 556.80,591.48 557.34,591.76 557.88,592.04 558.43,592.31 558.98,592.57 559.53,592.84 560.08,593.10 560.64,593.36 561.21,593.62 561.77,593.88 562.34,594.13 562.92,594.38 563.49,594.63 564.07,594.87 564.65,595.11 565.24,595.36 565.83,595.59 566.42,595.83 567.02,596.06 567.62,596.29 568.22,596.52 568.83,596.75 569.44,596.98 570.05,597.20 570.67,597.42 571.29,597.64 571.91,597.86 572.53,598.07 573.16,598.28 573.80,598.49 574.43,598.70 575.07,598.91 575.72,599.12 576.36,599.32 577.01,599.52 577.66,599.72 578.32,599.92 578.98,600.11 579.64,600.31 580.31,600.50 580.98,600.69 581.65,600.88 582.33,601.07 583.01,601.26 583.69,601.44 584.38,601.62 585.07,601.81 585.76,601.99 586.46,602.16 587.16,602.34 587.86,602.52 588.57,602.69 589.28,602.86 589.99,603.03 590.71,603.20 591.43,603.37 592.15,603.54 592.88,603.70 593.60,603.87 594.34,604.03 595.07,604.19 595.81,604.35 596.56,604.51 597.30,604.67 598.05,604.83 598.81,604.98 599.56,605.14 600.32,605.29 601.09,605.44 601.85,605.59 602.62,605.74 603.40,605.89 604.17,606.03 604.95,606.18 605.74,606.32 606.52,606.47 607.31,606.61 608.11,606.75 608.90,606.89 609.70,607.03 610.51,607.17 611.31,607.31 612.12,607.44 612.94,607.58 613.75,607.71 614.57,607.84 615.40,607.98 616.22,608.11 617.05,608.24 617.88,608.37 618.72,608.50 619.56,608.62 620.41,608.75 621.25,608.87 622.10,609.00 622.96,609.12 623.81,609.25 624.67,609.37 625.54,609.49 626.40,609.61 627.27,609.73 628.15,609.85 629.02,609.96 629.90,610.08 630.79,610.20 631.67,610.31 632.56,610.43 633.46,610.54 634.35,610.65 635.25,610.77 636.16,610.88 637.06,610.99 637.97,611.10 638.89,611.21 639.80,611.32 640.72,611.42 641.65,611.53 642.57,611.64 643.50,611.74 644.44,611.85 645.37,611.95 646.32,612.05 647.26,612.16 648.21,612.26 649.16,612.36 650.11,612.46 651.07,612.56 652.03,612.66 652.99,612.76 653.96,612.86 654.93,612.96 655.90,613.05 656.88,613.15 657.86,613.25 658.84,613.34 659.83,613.44 660.82,613.53 661.81,613.62 662.81,613.72 663.81,613.81" fill="none" stroke="#ff2020" stroke-width="1"/><rect x="496.50" y="455.50" width="187.50" height="188.00" fill="none" stroke="#8f8f8f" stroke-width="1"/><line x1="508.50" y1="643.5" x2="508.50" y2="646.1" stroke="#8f8f8f" stroke-width="1"/><text transform="translate(508.50,654.00) scale(1.0,1)" font-size="8.4" text-anchor="middle" fill="#000" style="stroke:none">0</text><line x1="533.55" y1="643.5" x2="533.55" y2="644.9" stroke="#8f8f8f" stroke-width="1"/><line x1="558.60" y1="643.5" x2="558.60" y2="646.1" stroke="#8f8f8f" stroke-width="1"/><text transform="translate(558.60,654.00) scale(1.0,1)" font-size="8.4" text-anchor="middle" fill="#000" style="stroke:none">10</text><line x1="583.65" y1="643.5" x2="583.65" y2="644.9" stroke="#8f8f8f" stroke-width="1"/><line x1="608.70" y1="643.5" x2="608.70" y2="646.1" stroke="#8f8f8f" stroke-width="1"/><text transform="translate(608.70,654.00) scale(1.0,1)" font-size="8.4" text-anchor="middle" fill="#000" style="stroke:none">20</text><line x1="633.75" y1="643.5" x2="633.75" y2="644.9" stroke="#8f8f8f" stroke-width="1"/><line x1="658.80" y1="643.5" x2="658.80" y2="646.1" stroke="#8f8f8f" stroke-width="1"/><text transform="translate(658.80,654.00) scale(1.0,1)" font-size="8.4" text-anchor="middle" fill="#000" style="stroke:none">30</text><line x1="683.85" y1="643.5" x2="683.85" y2="644.9" stroke="#8f8f8f" stroke-width="1"/><line x1="496.5" y1="643.50" x2="493.9" y2="643.50" stroke="#8f8f8f" stroke-width="1"/><text transform="translate(492.20,646.20) scale(0.96,1.1)" font-size="8.4" text-anchor="end" fill="#000" style="stroke:none">0</text><line x1="496.5" y1="620.00" x2="495.1" y2="620.00" stroke="#8f8f8f" stroke-width="1"/><line x1="496.5" y1="596.50" x2="493.9" y2="596.50" stroke="#8f8f8f" stroke-width="1"/><text transform="translate(492.20,599.20) scale(0.96,1.1)" font-size="8.4" text-anchor="end" fill="#000" style="stroke:none">200</text><line x1="496.5" y1="573.00" x2="495.1" y2="573.00" stroke="#8f8f8f" stroke-width="1"/><line x1="496.5" y1="549.50" x2="493.9" y2="549.50" stroke="#8f8f8f" stroke-width="1"/><text transform="translate(492.20,552.20) scale(0.96,1.1)" font-size="8.4" text-anchor="end" fill="#000" style="stroke:none">400</text><line x1="496.5" y1="526.00" x2="495.1" y2="526.00" stroke="#8f8f8f" stroke-width="1"/><line x1="496.5" y1="502.50" x2="493.9" y2="502.50" stroke="#8f8f8f" stroke-width="1"/><text transform="translate(492.20,505.20) scale(0.96,1.1)" font-size="8.4" text-anchor="end" fill="#000" style="stroke:none">600</text><line x1="496.5" y1="479.00" x2="495.1" y2="479.00" stroke="#8f8f8f" stroke-width="1"/><line x1="496.5" y1="455.50" x2="493.9" y2="455.50" stroke="#8f8f8f" stroke-width="1"/><text transform="translate(492.20,458.20) scale(0.96,1.1)" font-size="8.4" text-anchor="end" fill="#000" style="stroke:none">800</text><text x="591.35" y="664.40" font-size="10.2" text-anchor="middle" fill="#000">t (min)</text><text transform="translate(475.20,549.50) rotate(-90)" font-size="10.6" text-anchor="middle" fill="#000">C (mg/L)</text><text x="502.90" y="476.90" font-size="20.8" fill="#000" style="stroke:none">i</text><text x="673.60" y="475.00" font-size="10.2" text-anchor="end" fill="#000">SC</text><text x="673.60" y="489.10" font-size="10.2" text-anchor="end" fill="#000">Adj. R<tspan font-size="7.3" dy="-3.8">2</tspan><tspan dy="3.8" dx="0.5">=0.98</tspan></text><text x="673.60" y="504.80" font-size="10.2" text-anchor="end" fill="#000">C=656.79 t<tspan class="sf" style="stroke:none" font-size="7.2" dy="-3.9">−0.48</tspan></text></g>
</svg></body></html>
